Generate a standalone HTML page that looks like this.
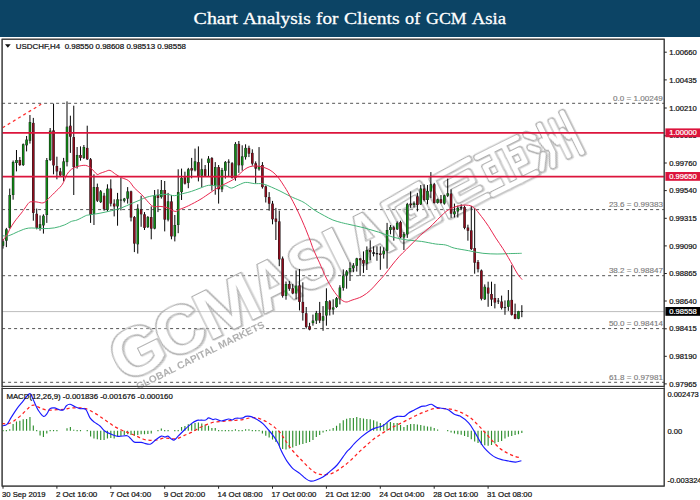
<!DOCTYPE html><html><head><meta charset="utf-8"><title>Chart Analysis for Clients of GCM Asia</title>
<style>html,body{margin:0;padding:0;background:#fff}body{width:700px;height:500px;overflow:hidden;position:relative;font-family:"Liberation Sans",sans-serif}#hdr{position:absolute;left:0;top:0;width:700px;height:36.7px;background:#0c4465}#ttl{position:absolute;left:0;top:0;width:700px;text-align:center;color:#fff;font-family:"Liberation Serif",serif;font-size:18px;line-height:20px;white-space:nowrap}svg{position:absolute;left:0;top:0}text{font-family:"Liberation Sans",sans-serif}.t text{stroke:#111;stroke-width:0.22px}.t text.w{stroke:#fff}.t text.g{stroke:#7d7d7d;stroke-width:0.15px}</style></head><body>
<div id="hdr"></div>
<svg width="700" height="500" viewBox="0 0 700 500">
<g id="tspan" font-size="17.6" fill="#fff" style="font-family:'Liberation Serif',serif">
<text style="font-family:&quot;Liberation Serif&quot;,serif" stroke="#fff" stroke-width="0.3" x="193.6" y="24" textLength="44.3" lengthAdjust="spacingAndGlyphs">Chart</text>
<text style="font-family:&quot;Liberation Serif&quot;,serif" stroke="#fff" stroke-width="0.3" x="243.0" y="24" textLength="67.7" lengthAdjust="spacingAndGlyphs">Analysis</text>
<text style="font-family:&quot;Liberation Serif&quot;,serif" stroke="#fff" stroke-width="0.3" x="316.1" y="24" textLength="22.2" lengthAdjust="spacingAndGlyphs">for</text>
<text style="font-family:&quot;Liberation Serif&quot;,serif" stroke="#fff" stroke-width="0.3" x="344.0" y="24" textLength="55.6" lengthAdjust="spacingAndGlyphs">Clients</text>
<text style="font-family:&quot;Liberation Serif&quot;,serif" stroke="#fff" stroke-width="0.3" x="405.1" y="24" textLength="15.2" lengthAdjust="spacingAndGlyphs">of</text>
<text style="font-family:&quot;Liberation Serif&quot;,serif" stroke="#fff" stroke-width="0.3" x="426.1" y="24" textLength="40.6" lengthAdjust="spacingAndGlyphs">GCM</text>
<text style="font-family:&quot;Liberation Serif&quot;,serif" stroke="#fff" stroke-width="0.3" x="471.8" y="24" textLength="34.2" lengthAdjust="spacingAndGlyphs">Asia</text>
</g>
<defs><clipPath id="c1"><rect x="2.1" y="39.2" width="662.1" height="347.2"/></clipPath><clipPath id="c2"><rect x="2.1" y="388.5" width="662.1" height="97.60000000000002"/></clipPath></defs>
<g clip-path="url(#c1)">
<line x1="2.1" x2="664.2" y1="311.6" y2="311.6" stroke="#bdbdbd" stroke-width="1"/>
<line x1="2.1" x2="664.2" y1="103.3" y2="103.3" stroke="#555" stroke-width="1" stroke-dasharray="3,3"/>
<line x1="2.1" x2="664.2" y1="209.6" y2="209.6" stroke="#555" stroke-width="1" stroke-dasharray="3,3"/>
<line x1="2.1" x2="664.2" y1="275.7" y2="275.7" stroke="#555" stroke-width="1" stroke-dasharray="3,3"/>
<line x1="2.1" x2="664.2" y1="328.6" y2="328.6" stroke="#555" stroke-width="1" stroke-dasharray="3,3"/>
<line x1="2.1" x2="664.2" y1="382.3" y2="382.3" stroke="#555" stroke-width="1" stroke-dasharray="3,3"/>
</g>
<rect x="2.1" y="39.2" width="662.1" height="347.2" fill="none" stroke="#3a3a3a" stroke-width="1"/>
<rect x="2.1" y="388.5" width="662.1" height="97.60000000000002" fill="none" stroke="#3a3a3a" stroke-width="1"/>
<defs><filter id="ol" x="-5%" y="-5%" width="110%" height="110%" color-interpolation-filters="sRGB">
<feMorphology in="SourceAlpha" operator="dilate" radius="0.55" result="d"/>
<feComposite in="d" in2="SourceAlpha" operator="out" result="ring"/>
<feFlood flood-color="#a9a9a9" flood-opacity="0.95" result="fc"/><feComposite in="fc" in2="ring" operator="in" result="ringc"/>
<feFlood flood-color="#ffffff" flood-opacity="0.28" result="ff"/><feComposite in="ff" in2="SourceAlpha" operator="in" result="fillc"/>
<feOffset in="ring" dx="1.2" dy="1.4" result="sh"/><feFlood flood-color="#c4c4c4" flood-opacity="0.8" result="fs"/><feComposite in="fs" in2="sh" operator="in" result="shc0"/>
<feComposite in="shc0" in2="SourceAlpha" operator="out" result="shc"/>
<feMerge><feMergeNode in="shc"/><feMergeNode in="fillc"/><feMergeNode in="ringc"/></feMerge></filter></defs>
<g transform="translate(212.9,339.3) rotate(-26.4)">
<g filter="url(#ol)">
<text transform="translate(-97.0,0) scale(1.016,1) translate(-2.72,0)" x="0" y="0" font-size="68.0" font-weight="bold" fill="#000">G</text>
<text transform="translate(-47.5,0) scale(0.992,1) translate(-2.72,0)" x="0" y="0" font-size="68.0" font-weight="bold" fill="#000">C</text>
<text transform="translate(0.0,0) scale(1.137,1) translate(-4.08,0)" x="0" y="0" font-size="68.0" font-weight="bold" fill="#000">M</text>
<text transform="translate(57.5,0) scale(0.908,1) translate(-1.36,0)" x="0" y="0" font-size="68.0" font-weight="bold" fill="#000">A</text>
<text transform="translate(101.4,0) scale(0.916,1) translate(-1.36,0)" x="0" y="0" font-size="68.0" font-weight="bold" fill="#000">S</text>
<text transform="translate(145.2,0) scale(1.066,1) translate(-4.08,0)" x="0" y="0" font-size="68.0" font-weight="bold" fill="#000">I</text>
<text transform="translate(166.5,0) scale(0.811,1) translate(-1.36,0)" x="0" y="0" font-size="68.0" font-weight="bold" fill="#000">A</text>
<path d="M212.9,-44.8 L253.2,-47.6 L256.1,-7.2 L214.8,-4.4 L212.9,-44.8" fill="none" stroke="#000" stroke-width="5.2" stroke-linejoin="round" stroke-linecap="round"/><path d="M224.4,-34.5 L243.6,-36.3 L244.6,-17.5 L226.3,-15.7 L224.4,-34.5" fill="none" stroke="#000" stroke-width="5.2" stroke-linejoin="round" stroke-linecap="round"/><path d="M234.0,-26.0 L239.8,-26.0 L239.8,-21.3" fill="none" stroke="#000" stroke-width="5.2" stroke-linejoin="round" stroke-linecap="round"/>
<path d="M308.9,-47.6 L267.6,-45.7 L267.6,-5.3 L309.8,-6.3" fill="none" stroke="#000" stroke-width="5.2" stroke-linejoin="round" stroke-linecap="round"/><path d="M279.1,-35.4 L303.1,-36.3 L303.1,-26.0 L282.0,-25.1" fill="none" stroke="#000" stroke-width="5.2" stroke-linejoin="round" stroke-linecap="round"/><path d="M282.0,-25.1 L282.0,-15.7 L306.0,-16.6" fill="none" stroke="#000" stroke-width="5.2" stroke-linejoin="round" stroke-linecap="round"/>
<path d="M317.5,-45.7 L361.7,-45.7" fill="none" stroke="#000" stroke-width="5.2" stroke-linejoin="round" stroke-linecap="round"/><path d="M315.6,-5.3 L363.6,-5.3" fill="none" stroke="#000" stroke-width="5.2" stroke-linejoin="round" stroke-linecap="round"/><path d="M332.9,-45.7 L332.9,-5.3" fill="none" stroke="#000" stroke-width="5.2" stroke-linejoin="round" stroke-linecap="round"/><path d="M346.3,-45.7 L346.3,-5.3" fill="none" stroke="#000" stroke-width="5.2" stroke-linejoin="round" stroke-linecap="round"/><path d="M332.9,-33.5 L320.4,-33.5 L320.4,-20.4 L332.9,-20.4" fill="none" stroke="#000" stroke-width="5.2" stroke-linejoin="round" stroke-linecap="round"/><path d="M346.3,-33.5 L358.8,-33.5 L358.8,-20.4 L346.3,-20.4" fill="none" stroke="#000" stroke-width="5.2" stroke-linejoin="round" stroke-linecap="round"/>
<path d="M371.3,-43.9 L377.0,-38.2" fill="none" stroke="#000" stroke-width="5.2" stroke-linejoin="round" stroke-linecap="round"/><path d="M369.4,-30.7 L375.1,-25.1" fill="none" stroke="#000" stroke-width="5.2" stroke-linejoin="round" stroke-linecap="round"/><path d="M370.3,-6.3 L378.0,-18.5" fill="none" stroke="#000" stroke-width="5.2" stroke-linejoin="round" stroke-linecap="round"/><path d="M387.6,-46.7 L387.6,-16.6 L381.8,-4.4" fill="none" stroke="#000" stroke-width="5.2" stroke-linejoin="round" stroke-linecap="round"/><path d="M400.1,-44.8 L400.1,-6.3" fill="none" stroke="#000" stroke-width="5.2" stroke-linejoin="round" stroke-linecap="round"/><path d="M413.5,-47.6 L413.5,-3.4" fill="none" stroke="#000" stroke-width="5.2" stroke-linejoin="round" stroke-linecap="round"/><path d="M382.8,-31.6 L384.7,-23.2" fill="none" stroke="#000" stroke-width="5.2" stroke-linejoin="round" stroke-linecap="round"/><path d="M393.4,-31.6 L396.2,-23.2" fill="none" stroke="#000" stroke-width="5.2" stroke-linejoin="round" stroke-linecap="round"/><path d="M405.8,-31.6 L408.7,-23.2" fill="none" stroke="#000" stroke-width="5.2" stroke-linejoin="round" stroke-linecap="round"/>
</g>
<text x="-89.5" y="12.2" font-size="10" font-weight="bold" textLength="142" lengthAdjust="spacingAndGlyphs" fill="#a8a8a8" stroke="#fff" stroke-width="1.6" paint-order="stroke" opacity="0.9">GLOBAL CAPITAL MARKETS</text>
</g>
<g clip-path="url(#c1)">
<line x1="3.00" x2="3.00" y1="239.3" y2="248.6" stroke="#050505" stroke-width="1"/>
<rect x="1.75" y="241.4" width="2.5" height="4.3" fill="#161616"/>
<rect x="2.20" y="241.7" width="1.6" height="3.7" fill="#0f8a14"/>
<line x1="6.37" x2="6.37" y1="227.9" y2="247.1" stroke="#050505" stroke-width="1"/>
<rect x="5.12" y="229.3" width="2.5" height="11.4" fill="#161616"/>
<rect x="5.57" y="229.6" width="1.6" height="10.8" fill="#0f8a14"/>
<line x1="9.74" x2="9.74" y1="188.6" y2="228.6" stroke="#050505" stroke-width="1"/>
<rect x="8.49" y="195" width="2.5" height="32.9" fill="#161616"/>
<rect x="8.94" y="195.3" width="1.6" height="32.3" fill="#0f8a14"/>
<line x1="13.11" x2="13.11" y1="160.5" y2="199.7" stroke="#050505" stroke-width="1"/>
<rect x="11.86" y="162" width="2.5" height="33.0" fill="#161616"/>
<rect x="12.31" y="162.3" width="1.6" height="32.4" fill="#0f8a14"/>
<line x1="16.48" x2="16.48" y1="150" y2="171.4" stroke="#050505" stroke-width="1"/>
<rect x="15.23" y="160" width="2.5" height="3.0" fill="#161616"/>
<rect x="15.68" y="160.3" width="1.6" height="2.4" fill="#0f8a14"/>
<line x1="19.85" x2="19.85" y1="157" y2="166" stroke="#050505" stroke-width="1"/>
<rect x="18.60" y="160" width="2.5" height="5.0" fill="#161616"/>
<rect x="19.05" y="160.3" width="1.6" height="4.4" fill="#8e0b1c"/>
<line x1="23.21" x2="23.21" y1="143.5" y2="166" stroke="#050505" stroke-width="1"/>
<rect x="21.96" y="144.3" width="2.5" height="20.7" fill="#161616"/>
<rect x="22.41" y="144.6" width="1.6" height="20.1" fill="#0f8a14"/>
<line x1="26.58" x2="26.58" y1="136" y2="151.4" stroke="#050505" stroke-width="1"/>
<rect x="25.33" y="139.6" width="2.5" height="5.7" fill="#161616"/>
<rect x="25.78" y="139.9" width="1.6" height="5.1" fill="#0f8a14"/>
<line x1="29.95" x2="29.95" y1="115" y2="143.6" stroke="#050505" stroke-width="1"/>
<rect x="28.70" y="122.1" width="2.5" height="18.6" fill="#161616"/>
<rect x="29.15" y="122.4" width="1.6" height="18.0" fill="#0f8a14"/>
<line x1="33.32" x2="33.32" y1="117.9" y2="220.7" stroke="#050505" stroke-width="1"/>
<rect x="32.07" y="122.9" width="2.5" height="90.0" fill="#161616"/>
<rect x="32.52" y="123.2" width="1.6" height="89.4" fill="#8e0b1c"/>
<line x1="36.69" x2="36.69" y1="208.6" y2="229.3" stroke="#050505" stroke-width="1"/>
<rect x="35.44" y="213.8" width="2.5" height="14.1" fill="#161616"/>
<rect x="35.89" y="214.1" width="1.6" height="13.5" fill="#8e0b1c"/>
<line x1="40.06" x2="40.06" y1="215.4" y2="230.7" stroke="#050505" stroke-width="1"/>
<rect x="38.81" y="224.3" width="2.5" height="3.6" fill="#161616"/>
<rect x="39.26" y="224.6" width="1.6" height="3.0" fill="#0f8a14"/>
<line x1="43.43" x2="43.43" y1="214.3" y2="233.6" stroke="#050505" stroke-width="1"/>
<rect x="42.18" y="215.7" width="2.5" height="9.7" fill="#161616"/>
<rect x="42.63" y="216.0" width="1.6" height="9.1" fill="#0f8a14"/>
<line x1="46.80" x2="46.80" y1="158" y2="222.9" stroke="#050505" stroke-width="1"/>
<rect x="45.55" y="160" width="2.5" height="55.0" fill="#161616"/>
<rect x="46.00" y="160.3" width="1.6" height="54.4" fill="#0f8a14"/>
<line x1="50.17" x2="50.17" y1="128" y2="161" stroke="#050505" stroke-width="1"/>
<rect x="48.92" y="130.7" width="2.5" height="29.3" fill="#161616"/>
<rect x="49.37" y="131.0" width="1.6" height="28.7" fill="#0f8a14"/>
<line x1="53.54" x2="53.54" y1="103.6" y2="174.3" stroke="#050505" stroke-width="1"/>
<rect x="52.29" y="130.4" width="2.5" height="35.0" fill="#161616"/>
<rect x="52.74" y="130.7" width="1.6" height="34.4" fill="#8e0b1c"/>
<line x1="56.90" x2="56.90" y1="156.7" y2="179.3" stroke="#050505" stroke-width="1"/>
<rect x="55.65" y="166" width="2.5" height="5.4" fill="#161616"/>
<rect x="56.10" y="166.3" width="1.6" height="4.8" fill="#8e0b1c"/>
<line x1="60.27" x2="60.27" y1="167.9" y2="176" stroke="#050505" stroke-width="1"/>
<rect x="59.02" y="171.4" width="2.5" height="4.0" fill="#161616"/>
<rect x="59.47" y="171.7" width="1.6" height="3.4" fill="#8e0b1c"/>
<line x1="63.64" x2="63.64" y1="157.9" y2="181.4" stroke="#050505" stroke-width="1"/>
<rect x="62.39" y="161.4" width="2.5" height="14.3" fill="#161616"/>
<rect x="62.84" y="161.7" width="1.6" height="13.7" fill="#0f8a14"/>
<line x1="67.01" x2="67.01" y1="101.4" y2="166.4" stroke="#050505" stroke-width="1"/>
<rect x="65.76" y="126.7" width="2.5" height="35.4" fill="#161616"/>
<rect x="66.21" y="127.0" width="1.6" height="34.8" fill="#0f8a14"/>
<line x1="70.38" x2="70.38" y1="115.7" y2="152.9" stroke="#050505" stroke-width="1"/>
<rect x="69.13" y="125.7" width="2.5" height="11.0" fill="#161616"/>
<rect x="69.58" y="126.0" width="1.6" height="10.4" fill="#8e0b1c"/>
<line x1="73.75" x2="73.75" y1="105.7" y2="195" stroke="#050505" stroke-width="1"/>
<rect x="72.50" y="137.1" width="2.5" height="30.0" fill="#161616"/>
<rect x="72.95" y="137.4" width="1.6" height="29.4" fill="#8e0b1c"/>
<line x1="77.12" x2="77.12" y1="147" y2="168.6" stroke="#050505" stroke-width="1"/>
<rect x="75.87" y="155" width="2.5" height="11.4" fill="#161616"/>
<rect x="76.32" y="155.3" width="1.6" height="10.8" fill="#0f8a14"/>
<line x1="80.49" x2="80.49" y1="146.4" y2="160.7" stroke="#050505" stroke-width="1"/>
<rect x="79.24" y="155" width="2.5" height="2.9" fill="#161616"/>
<rect x="79.69" y="155.3" width="1.6" height="2.3" fill="#8e0b1c"/>
<line x1="83.86" x2="83.86" y1="145" y2="159" stroke="#050505" stroke-width="1"/>
<rect x="82.61" y="147" width="2.5" height="10.9" fill="#161616"/>
<rect x="83.06" y="147.3" width="1.6" height="10.3" fill="#0f8a14"/>
<line x1="87.23" x2="87.23" y1="125.7" y2="160" stroke="#050505" stroke-width="1"/>
<rect x="85.98" y="147.9" width="2.5" height="11.4" fill="#161616"/>
<rect x="86.43" y="148.2" width="1.6" height="10.8" fill="#8e0b1c"/>
<line x1="90.59" x2="90.59" y1="158" y2="222.9" stroke="#050505" stroke-width="1"/>
<rect x="89.34" y="159.3" width="2.5" height="55.7" fill="#161616"/>
<rect x="89.79" y="159.6" width="1.6" height="55.1" fill="#8e0b1c"/>
<line x1="93.96" x2="93.96" y1="174.3" y2="225" stroke="#050505" stroke-width="1"/>
<rect x="92.71" y="187.1" width="2.5" height="26.8" fill="#161616"/>
<rect x="93.16" y="187.4" width="1.6" height="26.2" fill="#0f8a14"/>
<line x1="97.33" x2="97.33" y1="183.6" y2="202" stroke="#050505" stroke-width="1"/>
<rect x="96.08" y="187.1" width="2.5" height="13.6" fill="#161616"/>
<rect x="96.53" y="187.4" width="1.6" height="13.0" fill="#8e0b1c"/>
<line x1="100.70" x2="100.70" y1="190" y2="203" stroke="#050505" stroke-width="1"/>
<rect x="99.45" y="191.4" width="2.5" height="10.7" fill="#161616"/>
<rect x="99.90" y="191.7" width="1.6" height="10.1" fill="#0f8a14"/>
<line x1="104.07" x2="104.07" y1="192.9" y2="210.7" stroke="#050505" stroke-width="1"/>
<rect x="102.82" y="195.7" width="2.5" height="13.6" fill="#161616"/>
<rect x="103.27" y="196.0" width="1.6" height="13.0" fill="#8e0b1c"/>
<line x1="107.44" x2="107.44" y1="184.3" y2="211.4" stroke="#050505" stroke-width="1"/>
<rect x="106.19" y="188.6" width="2.5" height="21.4" fill="#161616"/>
<rect x="106.64" y="188.9" width="1.6" height="20.8" fill="#0f8a14"/>
<line x1="110.81" x2="110.81" y1="179.3" y2="206.4" stroke="#050505" stroke-width="1"/>
<rect x="109.56" y="188.6" width="2.5" height="15.0" fill="#161616"/>
<rect x="110.01" y="188.9" width="1.6" height="14.4" fill="#8e0b1c"/>
<line x1="114.18" x2="114.18" y1="199.3" y2="216.4" stroke="#050505" stroke-width="1"/>
<rect x="112.93" y="203.6" width="2.5" height="2.8" fill="#161616"/>
<rect x="113.38" y="203.9" width="1.6" height="2.2" fill="#8e0b1c"/>
<line x1="117.55" x2="117.55" y1="192.9" y2="225.7" stroke="#050505" stroke-width="1"/>
<rect x="116.30" y="199.3" width="2.5" height="7.1" fill="#161616"/>
<rect x="116.75" y="199.6" width="1.6" height="6.5" fill="#0f8a14"/>
<line x1="120.92" x2="120.92" y1="177.9" y2="210.4" stroke="#050505" stroke-width="1"/>
<rect x="119.72" y="199.6" width="2.4" height="0.9" fill="#111"/>
<line x1="124.28" x2="124.28" y1="197.9" y2="202.4" stroke="#050505" stroke-width="1"/>
<rect x="123.03" y="198.6" width="2.5" height="2.1" fill="#161616"/>
<rect x="123.48" y="198.9" width="1.6" height="1.5" fill="#0f8a14"/>
<line x1="127.65" x2="127.65" y1="187.1" y2="203.6" stroke="#050505" stroke-width="1"/>
<rect x="126.40" y="191.4" width="2.5" height="7.2" fill="#161616"/>
<rect x="126.85" y="191.7" width="1.6" height="6.6" fill="#0f8a14"/>
<line x1="131.02" x2="131.02" y1="190.7" y2="221.4" stroke="#050505" stroke-width="1"/>
<rect x="129.77" y="191.4" width="2.5" height="26.1" fill="#161616"/>
<rect x="130.22" y="191.7" width="1.6" height="25.5" fill="#8e0b1c"/>
<line x1="134.39" x2="134.39" y1="216" y2="252.1" stroke="#050505" stroke-width="1"/>
<rect x="133.14" y="217.1" width="2.5" height="26.5" fill="#161616"/>
<rect x="133.59" y="217.4" width="1.6" height="25.9" fill="#8e0b1c"/>
<line x1="137.76" x2="137.76" y1="204.3" y2="253.6" stroke="#050505" stroke-width="1"/>
<rect x="136.51" y="208.6" width="2.5" height="35.7" fill="#161616"/>
<rect x="136.96" y="208.9" width="1.6" height="35.1" fill="#0f8a14"/>
<line x1="141.13" x2="141.13" y1="195.7" y2="226.8" stroke="#050505" stroke-width="1"/>
<rect x="139.88" y="209.3" width="2.5" height="5.0" fill="#161616"/>
<rect x="140.33" y="209.6" width="1.6" height="4.4" fill="#8e0b1c"/>
<line x1="144.50" x2="144.50" y1="212.1" y2="230" stroke="#050505" stroke-width="1"/>
<rect x="143.25" y="214.3" width="2.5" height="13.6" fill="#161616"/>
<rect x="143.70" y="214.6" width="1.6" height="13.0" fill="#8e0b1c"/>
<line x1="147.87" x2="147.87" y1="216" y2="228" stroke="#050505" stroke-width="1"/>
<rect x="146.62" y="217.1" width="2.5" height="10.0" fill="#161616"/>
<rect x="147.07" y="217.4" width="1.6" height="9.4" fill="#0f8a14"/>
<line x1="151.24" x2="151.24" y1="206.4" y2="239.3" stroke="#050505" stroke-width="1"/>
<rect x="149.99" y="217.1" width="2.5" height="11.5" fill="#161616"/>
<rect x="150.44" y="217.4" width="1.6" height="10.9" fill="#8e0b1c"/>
<line x1="154.61" x2="154.61" y1="190" y2="229.3" stroke="#050505" stroke-width="1"/>
<rect x="153.36" y="195.7" width="2.5" height="32.9" fill="#161616"/>
<rect x="153.81" y="196.0" width="1.6" height="32.3" fill="#0f8a14"/>
<line x1="157.97" x2="157.97" y1="189.3" y2="212.1" stroke="#050505" stroke-width="1"/>
<rect x="156.72" y="195" width="2.5" height="2.9" fill="#161616"/>
<rect x="157.17" y="195.3" width="1.6" height="2.3" fill="#8e0b1c"/>
<line x1="161.34" x2="161.34" y1="180" y2="198.6" stroke="#050505" stroke-width="1"/>
<rect x="160.09" y="190" width="2.5" height="7.1" fill="#161616"/>
<rect x="160.54" y="190.3" width="1.6" height="6.5" fill="#0f8a14"/>
<line x1="164.71" x2="164.71" y1="181" y2="231.4" stroke="#050505" stroke-width="1"/>
<rect x="163.46" y="190" width="2.5" height="29.6" fill="#161616"/>
<rect x="163.91" y="190.3" width="1.6" height="29.0" fill="#8e0b1c"/>
<line x1="168.08" x2="168.08" y1="192.9" y2="221.4" stroke="#050505" stroke-width="1"/>
<rect x="166.83" y="201.4" width="2.5" height="18.2" fill="#161616"/>
<rect x="167.28" y="201.7" width="1.6" height="17.6" fill="#0f8a14"/>
<line x1="171.45" x2="171.45" y1="195" y2="239.3" stroke="#050505" stroke-width="1"/>
<rect x="170.20" y="201.4" width="2.5" height="35.0" fill="#161616"/>
<rect x="170.65" y="201.7" width="1.6" height="34.4" fill="#8e0b1c"/>
<line x1="174.82" x2="174.82" y1="215" y2="241.4" stroke="#050505" stroke-width="1"/>
<rect x="173.57" y="225" width="2.5" height="11.4" fill="#161616"/>
<rect x="174.02" y="225.3" width="1.6" height="10.8" fill="#0f8a14"/>
<line x1="178.19" x2="178.19" y1="169.3" y2="233.2" stroke="#050505" stroke-width="1"/>
<rect x="176.94" y="192.1" width="2.5" height="32.9" fill="#161616"/>
<rect x="177.39" y="192.4" width="1.6" height="32.3" fill="#0f8a14"/>
<line x1="181.56" x2="181.56" y1="168.6" y2="200" stroke="#050505" stroke-width="1"/>
<rect x="180.31" y="177.9" width="2.5" height="14.2" fill="#161616"/>
<rect x="180.76" y="178.2" width="1.6" height="13.6" fill="#0f8a14"/>
<line x1="184.93" x2="184.93" y1="171.7" y2="184.5" stroke="#050505" stroke-width="1"/>
<rect x="183.68" y="177.4" width="2.5" height="6.2" fill="#161616"/>
<rect x="184.13" y="177.7" width="1.6" height="5.6" fill="#8e0b1c"/>
<line x1="188.30" x2="188.30" y1="167.9" y2="188.2" stroke="#050505" stroke-width="1"/>
<rect x="187.05" y="169.3" width="2.5" height="13.6" fill="#161616"/>
<rect x="187.50" y="169.6" width="1.6" height="13.0" fill="#0f8a14"/>
<line x1="191.66" x2="191.66" y1="157.9" y2="178.3" stroke="#050505" stroke-width="1"/>
<rect x="190.41" y="168.2" width="2.5" height="2.3" fill="#161616"/>
<rect x="190.86" y="168.5" width="1.6" height="1.7" fill="#8e0b1c"/>
<line x1="195.03" x2="195.03" y1="148.6" y2="171.4" stroke="#050505" stroke-width="1"/>
<rect x="193.78" y="161.4" width="2.5" height="8.9" fill="#161616"/>
<rect x="194.23" y="161.7" width="1.6" height="8.3" fill="#0f8a14"/>
<line x1="198.40" x2="198.40" y1="146.4" y2="181.4" stroke="#050505" stroke-width="1"/>
<rect x="197.15" y="162.1" width="2.5" height="14.7" fill="#161616"/>
<rect x="197.60" y="162.4" width="1.6" height="14.1" fill="#8e0b1c"/>
<line x1="201.77" x2="201.77" y1="158.6" y2="187.1" stroke="#050505" stroke-width="1"/>
<rect x="200.52" y="169.3" width="2.5" height="6.4" fill="#161616"/>
<rect x="200.97" y="169.6" width="1.6" height="5.8" fill="#0f8a14"/>
<line x1="205.14" x2="205.14" y1="165" y2="177" stroke="#050505" stroke-width="1"/>
<rect x="203.89" y="169.3" width="2.5" height="6.4" fill="#161616"/>
<rect x="204.34" y="169.6" width="1.6" height="5.8" fill="#8e0b1c"/>
<line x1="208.51" x2="208.51" y1="156.1" y2="176.4" stroke="#050505" stroke-width="1"/>
<rect x="207.26" y="158.6" width="2.5" height="4.3" fill="#161616"/>
<rect x="207.71" y="158.9" width="1.6" height="3.7" fill="#0f8a14"/>
<line x1="211.88" x2="211.88" y1="157.1" y2="190.7" stroke="#050505" stroke-width="1"/>
<rect x="210.63" y="158.1" width="2.5" height="27.6" fill="#161616"/>
<rect x="211.08" y="158.4" width="1.6" height="27.0" fill="#8e0b1c"/>
<line x1="215.25" x2="215.25" y1="162.1" y2="194.7" stroke="#050505" stroke-width="1"/>
<rect x="214.00" y="167.1" width="2.5" height="18.6" fill="#161616"/>
<rect x="214.45" y="167.4" width="1.6" height="18.0" fill="#0f8a14"/>
<line x1="218.62" x2="218.62" y1="165" y2="203.6" stroke="#050505" stroke-width="1"/>
<rect x="217.37" y="167.1" width="2.5" height="22.2" fill="#161616"/>
<rect x="217.82" y="167.4" width="1.6" height="21.6" fill="#8e0b1c"/>
<line x1="221.99" x2="221.99" y1="167.9" y2="192.1" stroke="#050505" stroke-width="1"/>
<rect x="220.74" y="170" width="2.5" height="19.3" fill="#161616"/>
<rect x="221.19" y="170.3" width="1.6" height="18.7" fill="#0f8a14"/>
<line x1="225.35" x2="225.35" y1="161" y2="178.6" stroke="#050505" stroke-width="1"/>
<rect x="224.10" y="162.1" width="2.5" height="8.6" fill="#161616"/>
<rect x="224.55" y="162.4" width="1.6" height="8.0" fill="#0f8a14"/>
<line x1="228.72" x2="228.72" y1="159.3" y2="176.4" stroke="#050505" stroke-width="1"/>
<rect x="227.52" y="161.6" width="2.4" height="1.0" fill="#111"/>
<line x1="232.09" x2="232.09" y1="162.1" y2="178.6" stroke="#050505" stroke-width="1"/>
<rect x="230.84" y="163.3" width="2.5" height="14.6" fill="#161616"/>
<rect x="231.29" y="163.6" width="1.6" height="14.0" fill="#8e0b1c"/>
<line x1="235.46" x2="235.46" y1="142.1" y2="180.7" stroke="#050505" stroke-width="1"/>
<rect x="234.21" y="143.9" width="2.5" height="34.0" fill="#161616"/>
<rect x="234.66" y="144.2" width="1.6" height="33.4" fill="#0f8a14"/>
<line x1="238.83" x2="238.83" y1="141" y2="172.9" stroke="#050505" stroke-width="1"/>
<rect x="237.58" y="143.9" width="2.5" height="21.4" fill="#161616"/>
<rect x="238.03" y="144.2" width="1.6" height="20.8" fill="#8e0b1c"/>
<line x1="242.20" x2="242.20" y1="145.3" y2="170.7" stroke="#050505" stroke-width="1"/>
<rect x="240.95" y="156.4" width="2.5" height="8.9" fill="#161616"/>
<rect x="241.40" y="156.7" width="1.6" height="8.3" fill="#0f8a14"/>
<line x1="245.57" x2="245.57" y1="144.3" y2="159.6" stroke="#050505" stroke-width="1"/>
<rect x="244.32" y="147.9" width="2.5" height="9.2" fill="#161616"/>
<rect x="244.77" y="148.2" width="1.6" height="8.6" fill="#0f8a14"/>
<line x1="248.94" x2="248.94" y1="145.7" y2="157.1" stroke="#050505" stroke-width="1"/>
<rect x="247.69" y="147.9" width="2.5" height="5.7" fill="#161616"/>
<rect x="248.14" y="148.2" width="1.6" height="5.1" fill="#8e0b1c"/>
<line x1="252.31" x2="252.31" y1="149.3" y2="165.7" stroke="#050505" stroke-width="1"/>
<rect x="251.06" y="152.9" width="2.5" height="10.7" fill="#161616"/>
<rect x="251.51" y="153.2" width="1.6" height="10.1" fill="#8e0b1c"/>
<line x1="255.68" x2="255.68" y1="161.4" y2="183.6" stroke="#050505" stroke-width="1"/>
<rect x="254.43" y="163.3" width="2.5" height="5.3" fill="#161616"/>
<rect x="254.88" y="163.6" width="1.6" height="4.7" fill="#8e0b1c"/>
<line x1="259.04" x2="259.04" y1="147.1" y2="170.7" stroke="#050505" stroke-width="1"/>
<rect x="257.79" y="166.4" width="2.5" height="2.9" fill="#161616"/>
<rect x="258.24" y="166.7" width="1.6" height="2.3" fill="#0f8a14"/>
<line x1="262.41" x2="262.41" y1="162.1" y2="188.6" stroke="#050505" stroke-width="1"/>
<rect x="261.16" y="165" width="2.5" height="22.1" fill="#161616"/>
<rect x="261.61" y="165.3" width="1.6" height="21.5" fill="#8e0b1c"/>
<line x1="265.78" x2="265.78" y1="185.5" y2="202.5" stroke="#050505" stroke-width="1"/>
<rect x="264.53" y="186.4" width="2.5" height="10.7" fill="#161616"/>
<rect x="264.98" y="186.7" width="1.6" height="10.1" fill="#8e0b1c"/>
<line x1="269.15" x2="269.15" y1="192.1" y2="210.7" stroke="#050505" stroke-width="1"/>
<rect x="267.90" y="197.1" width="2.5" height="6.5" fill="#161616"/>
<rect x="268.35" y="197.4" width="1.6" height="5.9" fill="#8e0b1c"/>
<line x1="272.52" x2="272.52" y1="200.9" y2="224.3" stroke="#050505" stroke-width="1"/>
<rect x="271.27" y="203.6" width="2.5" height="15.7" fill="#161616"/>
<rect x="271.72" y="203.9" width="1.6" height="15.1" fill="#8e0b1c"/>
<line x1="275.89" x2="275.89" y1="207.9" y2="240" stroke="#050505" stroke-width="1"/>
<rect x="274.64" y="218.6" width="2.5" height="3.1" fill="#161616"/>
<rect x="275.09" y="218.9" width="1.6" height="2.5" fill="#8e0b1c"/>
<line x1="279.26" x2="279.26" y1="210.7" y2="266.2" stroke="#050505" stroke-width="1"/>
<rect x="278.01" y="221.4" width="2.5" height="38.0" fill="#161616"/>
<rect x="278.46" y="221.7" width="1.6" height="37.4" fill="#8e0b1c"/>
<line x1="282.63" x2="282.63" y1="256.5" y2="297.6" stroke="#050505" stroke-width="1"/>
<rect x="281.38" y="258.5" width="2.5" height="37.4" fill="#161616"/>
<rect x="281.83" y="258.8" width="1.6" height="36.8" fill="#8e0b1c"/>
<line x1="286.00" x2="286.00" y1="281.5" y2="299.7" stroke="#050505" stroke-width="1"/>
<rect x="284.75" y="284" width="2.5" height="11.9" fill="#161616"/>
<rect x="285.20" y="284.3" width="1.6" height="11.3" fill="#0f8a14"/>
<line x1="289.37" x2="289.37" y1="281.1" y2="290.8" stroke="#050505" stroke-width="1"/>
<rect x="288.12" y="284" width="2.5" height="4.8" fill="#161616"/>
<rect x="288.56" y="284.3" width="1.6" height="4.2" fill="#8e0b1c"/>
<line x1="292.73" x2="292.73" y1="284" y2="294.2" stroke="#050505" stroke-width="1"/>
<rect x="291.48" y="288.3" width="2.5" height="5.1" fill="#161616"/>
<rect x="291.93" y="288.6" width="1.6" height="4.5" fill="#8e0b1c"/>
<line x1="296.10" x2="296.10" y1="270.4" y2="299.3" stroke="#050505" stroke-width="1"/>
<rect x="294.85" y="285.7" width="2.5" height="7.7" fill="#161616"/>
<rect x="295.30" y="286.0" width="1.6" height="7.1" fill="#0f8a14"/>
<line x1="299.47" x2="299.47" y1="269" y2="310.4" stroke="#050505" stroke-width="1"/>
<rect x="298.22" y="285.4" width="2.5" height="16.5" fill="#161616"/>
<rect x="298.67" y="285.7" width="1.6" height="15.9" fill="#8e0b1c"/>
<line x1="302.84" x2="302.84" y1="282.3" y2="320.6" stroke="#050505" stroke-width="1"/>
<rect x="301.59" y="301.9" width="2.5" height="11.0" fill="#161616"/>
<rect x="302.04" y="302.2" width="1.6" height="10.4" fill="#8e0b1c"/>
<line x1="306.21" x2="306.21" y1="307" y2="328.6" stroke="#050505" stroke-width="1"/>
<rect x="304.96" y="313.3" width="2.5" height="13.6" fill="#161616"/>
<rect x="305.41" y="313.6" width="1.6" height="13.0" fill="#8e0b1c"/>
<line x1="309.58" x2="309.58" y1="322.8" y2="330.3" stroke="#050505" stroke-width="1"/>
<rect x="308.33" y="326.2" width="2.5" height="3.4" fill="#161616"/>
<rect x="308.78" y="326.5" width="1.6" height="2.8" fill="#8e0b1c"/>
<line x1="312.95" x2="312.95" y1="314.6" y2="325.7" stroke="#050505" stroke-width="1"/>
<rect x="311.70" y="320.6" width="2.5" height="2.5" fill="#161616"/>
<rect x="312.15" y="320.9" width="1.6" height="1.9" fill="#0f8a14"/>
<line x1="316.32" x2="316.32" y1="310.9" y2="324" stroke="#050505" stroke-width="1"/>
<rect x="315.07" y="312.9" width="2.5" height="7.7" fill="#161616"/>
<rect x="315.52" y="313.2" width="1.6" height="7.1" fill="#0f8a14"/>
<line x1="319.69" x2="319.69" y1="301.9" y2="323.1" stroke="#050505" stroke-width="1"/>
<rect x="318.44" y="312.9" width="2.5" height="7.7" fill="#161616"/>
<rect x="318.89" y="313.2" width="1.6" height="7.1" fill="#8e0b1c"/>
<line x1="323.06" x2="323.06" y1="306.1" y2="330.8" stroke="#050505" stroke-width="1"/>
<rect x="321.81" y="316.3" width="2.5" height="4.3" fill="#161616"/>
<rect x="322.25" y="316.6" width="1.6" height="3.7" fill="#0f8a14"/>
<line x1="326.42" x2="326.42" y1="288.3" y2="325.7" stroke="#050505" stroke-width="1"/>
<rect x="325.17" y="301" width="2.5" height="14.5" fill="#161616"/>
<rect x="325.62" y="301.3" width="1.6" height="13.9" fill="#0f8a14"/>
<line x1="329.79" x2="329.79" y1="300" y2="315.5" stroke="#050505" stroke-width="1"/>
<rect x="328.54" y="301.4" width="2.5" height="8.1" fill="#161616"/>
<rect x="328.99" y="301.7" width="1.6" height="7.5" fill="#8e0b1c"/>
<line x1="333.16" x2="333.16" y1="299.3" y2="314.6" stroke="#050505" stroke-width="1"/>
<rect x="331.91" y="307.5" width="2.5" height="2.0" fill="#161616"/>
<rect x="332.36" y="307.8" width="1.6" height="1.4" fill="#0f8a14"/>
<line x1="336.53" x2="336.53" y1="297" y2="307.8" stroke="#050505" stroke-width="1"/>
<rect x="335.28" y="298.2" width="2.5" height="8.8" fill="#161616"/>
<rect x="335.73" y="298.5" width="1.6" height="8.2" fill="#0f8a14"/>
<line x1="339.90" x2="339.90" y1="285.2" y2="304.4" stroke="#050505" stroke-width="1"/>
<rect x="338.65" y="287.6" width="2.5" height="11.7" fill="#161616"/>
<rect x="339.10" y="287.9" width="1.6" height="11.1" fill="#0f8a14"/>
<line x1="343.27" x2="343.27" y1="269.4" y2="290.7" stroke="#050505" stroke-width="1"/>
<rect x="342.02" y="275.6" width="2.5" height="12.2" fill="#161616"/>
<rect x="342.47" y="275.9" width="1.6" height="11.6" fill="#0f8a14"/>
<line x1="346.64" x2="346.64" y1="270" y2="288.7" stroke="#050505" stroke-width="1"/>
<rect x="345.39" y="271.4" width="2.5" height="4.2" fill="#161616"/>
<rect x="345.84" y="271.7" width="1.6" height="3.6" fill="#0f8a14"/>
<line x1="350.01" x2="350.01" y1="262.4" y2="281" stroke="#050505" stroke-width="1"/>
<rect x="348.76" y="268" width="2.5" height="3.6" fill="#161616"/>
<rect x="349.21" y="268.3" width="1.6" height="3.0" fill="#0f8a14"/>
<line x1="353.38" x2="353.38" y1="263.1" y2="272.2" stroke="#050505" stroke-width="1"/>
<rect x="352.13" y="265.4" width="2.5" height="2.8" fill="#161616"/>
<rect x="352.58" y="265.7" width="1.6" height="2.2" fill="#0f8a14"/>
<line x1="356.75" x2="356.75" y1="257.8" y2="271.6" stroke="#050505" stroke-width="1"/>
<rect x="355.50" y="258.4" width="2.5" height="7.3" fill="#161616"/>
<rect x="355.94" y="258.7" width="1.6" height="6.7" fill="#0f8a14"/>
<line x1="360.11" x2="360.11" y1="258.2" y2="276" stroke="#050505" stroke-width="1"/>
<rect x="358.86" y="258.5" width="2.5" height="1.7" fill="#161616"/>
<rect x="359.31" y="258.8" width="1.6" height="1.1" fill="#8e0b1c"/>
<line x1="363.48" x2="363.48" y1="251.4" y2="272.9" stroke="#050505" stroke-width="1"/>
<rect x="362.23" y="260" width="2.5" height="3.6" fill="#161616"/>
<rect x="362.68" y="260.3" width="1.6" height="3.0" fill="#8e0b1c"/>
<line x1="366.85" x2="366.85" y1="246.4" y2="270" stroke="#050505" stroke-width="1"/>
<rect x="365.60" y="250" width="2.5" height="13.6" fill="#161616"/>
<rect x="366.05" y="250.3" width="1.6" height="13.0" fill="#0f8a14"/>
<line x1="370.22" x2="370.22" y1="240.3" y2="260.2" stroke="#050505" stroke-width="1"/>
<rect x="368.97" y="250" width="2.5" height="2.2" fill="#161616"/>
<rect x="369.42" y="250.3" width="1.6" height="1.6" fill="#8e0b1c"/>
<line x1="373.59" x2="373.59" y1="246.4" y2="256.4" stroke="#050505" stroke-width="1"/>
<rect x="372.39" y="252.1" width="2.4" height="1.9" fill="#111"/>
<line x1="376.96" x2="376.96" y1="246.4" y2="260.8" stroke="#050505" stroke-width="1"/>
<rect x="375.76" y="253" width="2.4" height="1.3" fill="#111"/>
<line x1="380.33" x2="380.33" y1="246.4" y2="269.8" stroke="#050505" stroke-width="1"/>
<rect x="379.08" y="253.4" width="2.5" height="1.6" fill="#161616"/>
<rect x="379.53" y="253.7" width="1.6" height="1.0" fill="#8e0b1c"/>
<line x1="383.70" x2="383.70" y1="247.3" y2="258.6" stroke="#050505" stroke-width="1"/>
<rect x="382.45" y="250.7" width="2.5" height="3.6" fill="#161616"/>
<rect x="382.90" y="251.0" width="1.6" height="3.0" fill="#0f8a14"/>
<line x1="387.07" x2="387.07" y1="222.9" y2="268.6" stroke="#050505" stroke-width="1"/>
<rect x="385.82" y="230" width="2.5" height="20.7" fill="#161616"/>
<rect x="386.27" y="230.3" width="1.6" height="20.1" fill="#0f8a14"/>
<line x1="390.44" x2="390.44" y1="225" y2="234.3" stroke="#050505" stroke-width="1"/>
<rect x="389.19" y="227.1" width="2.5" height="2.9" fill="#161616"/>
<rect x="389.63" y="227.4" width="1.6" height="2.3" fill="#0f8a14"/>
<line x1="393.80" x2="393.80" y1="225.7" y2="240.7" stroke="#050505" stroke-width="1"/>
<rect x="392.55" y="227.4" width="2.5" height="2.3" fill="#161616"/>
<rect x="393.00" y="227.7" width="1.6" height="1.7" fill="#8e0b1c"/>
<line x1="397.17" x2="397.17" y1="221.4" y2="230" stroke="#050505" stroke-width="1"/>
<rect x="395.92" y="222.9" width="2.5" height="6.4" fill="#161616"/>
<rect x="396.37" y="223.2" width="1.6" height="5.8" fill="#0f8a14"/>
<line x1="400.54" x2="400.54" y1="220.7" y2="238.3" stroke="#050505" stroke-width="1"/>
<rect x="399.29" y="222.1" width="2.5" height="15.3" fill="#161616"/>
<rect x="399.74" y="222.4" width="1.6" height="14.7" fill="#8e0b1c"/>
<line x1="403.91" x2="403.91" y1="232.1" y2="250" stroke="#050505" stroke-width="1"/>
<rect x="402.66" y="234" width="2.5" height="3.4" fill="#161616"/>
<rect x="403.11" y="234.3" width="1.6" height="2.8" fill="#0f8a14"/>
<line x1="407.28" x2="407.28" y1="202.9" y2="237.9" stroke="#050505" stroke-width="1"/>
<rect x="406.03" y="204.2" width="2.5" height="30.1" fill="#161616"/>
<rect x="406.48" y="204.5" width="1.6" height="29.5" fill="#0f8a14"/>
<line x1="410.65" x2="410.65" y1="191.4" y2="207.9" stroke="#050505" stroke-width="1"/>
<rect x="409.40" y="203.6" width="2.5" height="1.4" fill="#161616"/>
<rect x="409.85" y="203.9" width="1.6" height="0.8" fill="#8e0b1c"/>
<line x1="414.02" x2="414.02" y1="201.4" y2="207.5" stroke="#050505" stroke-width="1"/>
<rect x="412.77" y="203.3" width="2.5" height="1.7" fill="#161616"/>
<rect x="413.22" y="203.6" width="1.6" height="1.1" fill="#0f8a14"/>
<line x1="417.39" x2="417.39" y1="192.9" y2="211.4" stroke="#050505" stroke-width="1"/>
<rect x="416.14" y="196.4" width="2.5" height="8.6" fill="#161616"/>
<rect x="416.59" y="196.7" width="1.6" height="8.0" fill="#8e0b1c"/>
<line x1="420.76" x2="420.76" y1="185" y2="205" stroke="#050505" stroke-width="1"/>
<rect x="419.51" y="188.6" width="2.5" height="15.7" fill="#161616"/>
<rect x="419.96" y="188.9" width="1.6" height="15.1" fill="#0f8a14"/>
<line x1="424.12" x2="424.12" y1="184.3" y2="201.4" stroke="#050505" stroke-width="1"/>
<rect x="422.88" y="188.6" width="2.5" height="11.4" fill="#161616"/>
<rect x="423.32" y="188.9" width="1.6" height="10.8" fill="#8e0b1c"/>
<line x1="427.49" x2="427.49" y1="185" y2="204.3" stroke="#050505" stroke-width="1"/>
<rect x="426.24" y="191" width="2.5" height="9.0" fill="#161616"/>
<rect x="426.69" y="191.3" width="1.6" height="8.4" fill="#0f8a14"/>
<line x1="430.86" x2="430.86" y1="172.1" y2="197.9" stroke="#050505" stroke-width="1"/>
<rect x="429.61" y="184.3" width="2.5" height="7.1" fill="#161616"/>
<rect x="430.06" y="184.6" width="1.6" height="6.5" fill="#0f8a14"/>
<line x1="434.23" x2="434.23" y1="182.9" y2="203.6" stroke="#050505" stroke-width="1"/>
<rect x="432.98" y="184.3" width="2.5" height="18.6" fill="#161616"/>
<rect x="433.43" y="184.6" width="1.6" height="18.0" fill="#8e0b1c"/>
<line x1="437.60" x2="437.60" y1="198.6" y2="203.6" stroke="#050505" stroke-width="1"/>
<rect x="436.35" y="199.3" width="2.5" height="3.6" fill="#161616"/>
<rect x="436.80" y="199.6" width="1.6" height="3.0" fill="#0f8a14"/>
<line x1="440.97" x2="440.97" y1="195" y2="203.6" stroke="#050505" stroke-width="1"/>
<rect x="439.72" y="199.3" width="2.5" height="3.6" fill="#161616"/>
<rect x="440.17" y="199.6" width="1.6" height="3.0" fill="#8e0b1c"/>
<line x1="444.34" x2="444.34" y1="194.7" y2="204.7" stroke="#050505" stroke-width="1"/>
<rect x="443.09" y="195.4" width="2.5" height="8.2" fill="#161616"/>
<rect x="443.54" y="195.7" width="1.6" height="7.6" fill="#0f8a14"/>
<line x1="447.71" x2="447.71" y1="178.6" y2="197.1" stroke="#050505" stroke-width="1"/>
<rect x="446.46" y="193.3" width="2.5" height="2.4" fill="#161616"/>
<rect x="446.91" y="193.6" width="1.6" height="1.8" fill="#0f8a14"/>
<line x1="451.08" x2="451.08" y1="189.3" y2="217.9" stroke="#050505" stroke-width="1"/>
<rect x="449.83" y="193.6" width="2.5" height="20.0" fill="#161616"/>
<rect x="450.28" y="193.9" width="1.6" height="19.4" fill="#8e0b1c"/>
<line x1="454.45" x2="454.45" y1="203.6" y2="217.5" stroke="#050505" stroke-width="1"/>
<rect x="453.20" y="211.4" width="2.5" height="2.9" fill="#161616"/>
<rect x="453.65" y="211.7" width="1.6" height="2.3" fill="#0f8a14"/>
<line x1="457.82" x2="457.82" y1="205.7" y2="217.5" stroke="#050505" stroke-width="1"/>
<rect x="456.57" y="208" width="2.5" height="3.4" fill="#161616"/>
<rect x="457.02" y="208.3" width="1.6" height="2.8" fill="#0f8a14"/>
<line x1="461.18" x2="461.18" y1="204.3" y2="210.2" stroke="#050505" stroke-width="1"/>
<rect x="459.98" y="207.1" width="2.4" height="1.5" fill="#111"/>
<line x1="464.55" x2="464.55" y1="205.7" y2="229.3" stroke="#050505" stroke-width="1"/>
<rect x="463.30" y="207.1" width="2.5" height="20.8" fill="#161616"/>
<rect x="463.75" y="207.4" width="1.6" height="20.2" fill="#8e0b1c"/>
<line x1="467.92" x2="467.92" y1="224.7" y2="240.7" stroke="#050505" stroke-width="1"/>
<rect x="466.67" y="227.6" width="2.5" height="3.1" fill="#161616"/>
<rect x="467.12" y="227.9" width="1.6" height="2.5" fill="#8e0b1c"/>
<line x1="471.29" x2="471.29" y1="206" y2="250" stroke="#050505" stroke-width="1"/>
<rect x="470.04" y="230.4" width="2.5" height="18.6" fill="#161616"/>
<rect x="470.49" y="230.7" width="1.6" height="18.0" fill="#8e0b1c"/>
<line x1="474.66" x2="474.66" y1="208.2" y2="273.7" stroke="#050505" stroke-width="1"/>
<rect x="473.41" y="248.1" width="2.5" height="14.6" fill="#161616"/>
<rect x="473.86" y="248.4" width="1.6" height="14.0" fill="#8e0b1c"/>
<line x1="478.03" x2="478.03" y1="260" y2="272.4" stroke="#050505" stroke-width="1"/>
<rect x="476.78" y="262" width="2.5" height="7.2" fill="#161616"/>
<rect x="477.23" y="262.3" width="1.6" height="6.6" fill="#8e0b1c"/>
<line x1="481.40" x2="481.40" y1="269.5" y2="300.4" stroke="#050505" stroke-width="1"/>
<rect x="480.15" y="270.5" width="2.5" height="28.3" fill="#161616"/>
<rect x="480.60" y="270.8" width="1.6" height="27.7" fill="#8e0b1c"/>
<line x1="484.77" x2="484.77" y1="284.4" y2="300" stroke="#050505" stroke-width="1"/>
<rect x="483.52" y="286.8" width="2.5" height="12.5" fill="#161616"/>
<rect x="483.97" y="287.1" width="1.6" height="11.9" fill="#0f8a14"/>
<line x1="488.14" x2="488.14" y1="281.7" y2="306.8" stroke="#050505" stroke-width="1"/>
<rect x="486.89" y="287.6" width="2.5" height="5.9" fill="#161616"/>
<rect x="487.34" y="287.9" width="1.6" height="5.3" fill="#8e0b1c"/>
<line x1="491.51" x2="491.51" y1="281.7" y2="306" stroke="#050505" stroke-width="1"/>
<rect x="490.26" y="294" width="2.5" height="5.6" fill="#161616"/>
<rect x="490.71" y="294.3" width="1.6" height="5.0" fill="#8e0b1c"/>
<line x1="494.87" x2="494.87" y1="283.9" y2="308.4" stroke="#050505" stroke-width="1"/>
<rect x="493.62" y="298" width="2.5" height="4.5" fill="#161616"/>
<rect x="494.07" y="298.3" width="1.6" height="3.9" fill="#8e0b1c"/>
<line x1="498.24" x2="498.24" y1="298" y2="304" stroke="#050505" stroke-width="1"/>
<rect x="497.04" y="300.6" width="2.4" height="0.9" fill="#111"/>
<line x1="501.61" x2="501.61" y1="295.6" y2="309.5" stroke="#050505" stroke-width="1"/>
<rect x="500.36" y="301.5" width="2.5" height="6.4" fill="#161616"/>
<rect x="500.81" y="301.8" width="1.6" height="5.8" fill="#8e0b1c"/>
<line x1="504.98" x2="504.98" y1="300.4" y2="314.8" stroke="#050505" stroke-width="1"/>
<rect x="503.78" y="307.2" width="2.4" height="0.9" fill="#111"/>
<line x1="508.35" x2="508.35" y1="290" y2="310.8" stroke="#050505" stroke-width="1"/>
<rect x="507.10" y="300.4" width="2.5" height="6.4" fill="#161616"/>
<rect x="507.55" y="300.7" width="1.6" height="5.8" fill="#0f8a14"/>
<line x1="511.72" x2="511.72" y1="265.2" y2="315.6" stroke="#050505" stroke-width="1"/>
<rect x="510.47" y="299.9" width="2.5" height="14.9" fill="#161616"/>
<rect x="510.92" y="300.2" width="1.6" height="14.3" fill="#8e0b1c"/>
<line x1="515.09" x2="515.09" y1="303.6" y2="319.2" stroke="#050505" stroke-width="1"/>
<rect x="513.84" y="314" width="2.5" height="4.8" fill="#161616"/>
<rect x="514.29" y="314.3" width="1.6" height="4.2" fill="#8e0b1c"/>
<line x1="518.46" x2="518.46" y1="310.8" y2="319.2" stroke="#050505" stroke-width="1"/>
<rect x="517.21" y="311.1" width="2.5" height="7.7" fill="#161616"/>
<rect x="517.66" y="311.4" width="1.6" height="7.1" fill="#0f8a14"/>
<line x1="521.83" x2="521.83" y1="305.2" y2="317.2" stroke="#050505" stroke-width="1"/>
<rect x="520.63" y="311" width="2.4" height="0.9" fill="#111"/>
<path d="M2.0,235.7C3.1,235.7 5.8,236.4 8.6,235.7C11.4,235.0 15.3,232.7 18.6,231.4C21.9,230.1 24.6,228.6 28.6,228.1C32.6,227.6 38.6,228.6 42.9,228.6C47.2,228.6 50.7,228.5 54.3,227.9C57.9,227.3 61.4,226.1 64.3,225.0C67.2,223.9 69.3,222.2 71.4,221.4C73.5,220.6 74.6,220.9 77.0,220.0C79.4,219.1 83.8,216.5 85.7,215.7C87.6,214.9 86.2,215.4 88.6,215.0C91.0,214.6 96.2,213.9 100.0,213.2C103.8,212.5 107.8,211.6 111.4,210.7C115.0,209.8 118.1,209.1 121.4,207.9C124.7,206.7 128.3,204.9 131.4,203.6C134.5,202.3 137.4,201.1 140.0,200.0C142.6,198.9 144.2,197.9 147.0,197.1C149.8,196.3 153.7,195.5 157.0,195.0C160.3,194.5 164.1,194.2 167.0,194.3C169.9,194.4 171.7,195.8 174.3,195.7C177.0,195.6 180.1,194.3 182.9,193.6C185.8,192.9 188.6,192.3 191.4,191.4C194.2,190.5 197.1,189.2 200.0,188.2C202.9,187.2 205.5,185.7 208.6,185.3C211.7,185.0 215.8,186.0 218.6,186.1C221.4,186.2 223.6,185.4 225.7,185.7C227.8,186.0 229.2,188.2 231.4,188.1C233.6,188.0 236.2,185.9 238.6,185.0C241.0,184.1 243.1,182.6 245.7,182.4C248.3,182.2 251.4,183.3 254.3,183.6C257.2,183.8 260.0,183.3 262.9,183.9C265.8,184.5 268.5,185.9 271.4,187.1C274.2,188.3 276.9,189.5 280.0,191.0C283.1,192.5 286.7,194.6 290.0,196.2C293.3,197.8 297.4,199.3 300.0,200.5C302.6,201.7 303.3,202.0 305.7,203.6C308.1,205.2 311.2,208.0 314.3,210.0C317.4,212.0 321.2,214.0 324.3,215.7C327.4,217.4 330.0,218.8 332.9,220.0C335.8,221.2 338.5,221.8 341.4,222.6C344.2,223.4 346.2,223.7 350.0,224.6C353.8,225.5 359.5,226.7 364.3,227.9C369.1,229.2 373.8,230.6 378.6,232.1C383.4,233.6 388.1,235.8 392.9,237.1C397.6,238.4 402.4,239.3 407.1,240.0C411.9,240.7 416.6,240.7 421.4,241.4C426.2,242.1 431.6,243.4 435.7,244.0C439.8,244.6 442.6,244.3 445.7,245.0C448.8,245.7 450.5,247.2 454.3,248.1C458.1,249.0 463.8,249.8 468.6,250.7C473.4,251.6 478.1,252.8 482.9,253.3C487.6,253.9 492.8,253.9 497.1,254.0C501.4,254.1 504.5,253.7 508.6,253.6C512.7,253.5 519.5,253.4 521.7,253.3" fill="none" stroke="#45b478" stroke-width="1"/>
<path d="M2.0,241.4C2.8,240.3 5.7,237.0 7.0,235.0C8.3,233.0 8.5,231.5 9.7,229.3C10.9,227.1 12.4,224.7 14.3,222.0C16.2,219.3 19.6,215.3 21.4,213.0C23.2,210.7 23.7,209.8 25.0,208.0C26.3,206.2 28.0,203.4 29.3,202.4C30.6,201.4 31.7,201.9 33.0,201.8C34.3,201.7 35.4,201.8 37.0,202.0C38.6,202.2 41.2,203.2 42.9,202.9C44.6,202.6 45.1,201.7 47.0,200.0C48.9,198.3 51.9,195.3 54.3,192.9C56.7,190.5 59.7,187.8 61.4,185.7C63.1,183.5 63.6,181.9 64.5,180.0C65.4,178.1 65.8,176.1 67.0,174.3C68.2,172.5 69.6,170.6 71.4,169.3C73.2,168.0 75.5,167.1 77.9,166.4C80.3,165.8 83.5,165.0 85.7,165.4C88.0,165.8 89.5,167.1 91.4,168.6C93.3,170.1 95.6,173.5 97.0,174.3C98.4,175.1 98.5,173.9 100.0,173.4C101.5,172.9 104.0,171.9 105.7,171.4C107.4,170.9 108.3,169.9 110.0,170.4C111.7,170.9 113.8,173.1 115.7,174.3C117.6,175.5 119.2,176.5 121.4,177.6C123.6,178.7 126.4,179.0 128.6,180.7C130.8,182.4 132.2,185.6 134.3,187.9C136.4,190.2 139.3,192.2 141.4,194.3C143.5,196.4 145.1,198.7 147.0,200.7C148.9,202.7 150.7,205.4 152.9,206.4C155.1,207.4 157.7,206.2 160.0,206.4C162.3,206.6 164.5,206.8 167.0,207.6C169.5,208.4 172.8,211.1 175.0,211.4C177.2,211.7 177.7,210.2 180.0,209.3C182.3,208.4 185.3,207.3 188.6,205.7C191.9,204.1 196.9,201.4 200.0,199.6C203.1,197.8 204.6,196.6 207.0,195.0C209.4,193.4 211.9,191.6 214.3,190.0C216.7,188.4 219.0,187.0 221.4,185.7C223.8,184.4 226.2,183.4 228.6,182.1C231.0,180.8 233.6,179.6 235.7,177.9C237.8,176.2 239.5,173.8 241.4,172.1C243.3,170.4 245.1,168.9 247.0,167.9C248.9,166.9 250.7,166.3 252.9,166.1C255.1,165.8 257.6,166.0 260.0,166.4C262.4,166.8 264.9,167.7 267.0,168.6C269.1,169.5 271.0,170.5 272.9,172.1C274.8,173.7 276.7,175.5 278.6,177.9C280.5,180.3 282.7,184.0 284.3,186.4C285.9,188.8 286.6,190.0 288.0,192.5C289.4,195.0 291.1,198.0 292.9,201.4C294.7,204.8 296.7,208.9 298.6,212.9C300.5,216.9 302.4,221.2 304.3,225.7C306.2,230.2 308.4,235.9 310.0,240.0C311.6,244.1 312.0,246.2 313.6,250.0C315.2,253.8 317.4,258.1 319.5,262.8C321.6,267.5 324.0,273.6 326.3,278.1C328.6,282.6 330.8,286.6 333.1,290.0C335.4,293.4 337.8,296.5 339.9,298.5C342.0,300.5 343.8,301.7 345.8,302.0C347.8,302.3 349.3,301.0 352.0,300.1C354.7,299.2 359.0,298.1 362.1,296.4C365.2,294.7 368.1,292.4 370.7,290.0C373.3,287.6 375.5,284.7 377.9,282.1C380.3,279.5 382.6,277.2 385.0,274.3C387.4,271.4 389.7,268.0 392.1,265.0C394.5,262.0 396.9,259.0 399.3,256.4C401.7,253.8 404.0,251.7 406.4,249.3C408.8,246.9 411.2,244.5 413.6,242.1C416.0,239.7 418.0,237.5 420.7,235.0C423.4,232.5 426.8,230.1 430.0,227.1C433.2,224.1 437.1,219.8 440.0,217.1C442.9,214.4 444.7,212.4 447.1,210.7C449.5,209.0 451.9,208.0 454.3,207.1C456.7,206.2 459.0,205.6 461.4,205.3C463.8,205.0 466.5,204.9 468.6,205.3C470.8,205.7 472.2,206.1 474.3,207.9C476.4,209.8 479.0,213.3 481.4,216.4C483.8,219.5 486.2,222.8 488.6,226.4C491.0,230.0 493.3,234.2 495.7,237.9C498.1,241.6 500.8,245.3 502.9,248.6C505.0,251.9 506.7,254.7 508.3,257.5C509.9,260.3 511.2,262.8 512.8,265.5C514.3,268.2 516.0,271.6 517.6,274.0C519.2,276.4 521.4,278.7 522.1,279.6" fill="none" stroke="#e8274f" stroke-width="1"/>
<line x1="2.5" y1="127.8" x2="41.2" y2="104.2" stroke="#ff3030" stroke-width="1.3" stroke-dasharray="3,3.1"/>
<line x1="2.1" x2="664.2" y1="132.9" y2="132.9" stroke="#dc143c" stroke-width="1.7"/>
<line x1="2.1" x2="664.2" y1="176.6" y2="176.6" stroke="#dc143c" stroke-width="1.7"/>
</g>
<g clip-path="url(#c2)">
<line x1="3.00" x2="3.00" y1="430.1" y2="431.3" stroke="#2f8f2f" stroke-width="1.15"/>
<line x1="6.37" x2="6.37" y1="430.1" y2="431.3" stroke="#2f8f2f" stroke-width="1.15"/>
<line x1="9.74" x2="9.74" y1="429.3" y2="430.7" stroke="#2f8f2f" stroke-width="1.15"/>
<line x1="13.11" x2="13.11" y1="424.0" y2="430.7" stroke="#2f8f2f" stroke-width="1.15"/>
<line x1="16.48" x2="16.48" y1="421.4" y2="430.7" stroke="#2f8f2f" stroke-width="1.15"/>
<line x1="19.85" x2="19.85" y1="420.7" y2="430.7" stroke="#2f8f2f" stroke-width="1.15"/>
<line x1="23.21" x2="23.21" y1="419.3" y2="430.7" stroke="#2f8f2f" stroke-width="1.15"/>
<line x1="26.58" x2="26.58" y1="418.9" y2="430.7" stroke="#2f8f2f" stroke-width="1.15"/>
<line x1="29.95" x2="29.95" y1="417.1" y2="430.7" stroke="#2f8f2f" stroke-width="1.15"/>
<line x1="33.32" x2="33.32" y1="425.4" y2="430.7" stroke="#2f8f2f" stroke-width="1.15"/>
<line x1="36.69" x2="36.69" y1="430.1" y2="431.3" stroke="#2f8f2f" stroke-width="1.15"/>
<line x1="40.06" x2="40.06" y1="430.7" y2="435.4" stroke="#2f8f2f" stroke-width="1.15"/>
<line x1="43.43" x2="43.43" y1="430.7" y2="436.9" stroke="#2f8f2f" stroke-width="1.15"/>
<line x1="46.80" x2="46.80" y1="430.7" y2="433.6" stroke="#2f8f2f" stroke-width="1.15"/>
<line x1="50.17" x2="50.17" y1="430.1" y2="431.3" stroke="#2f8f2f" stroke-width="1.15"/>
<line x1="53.54" x2="53.54" y1="430.1" y2="431.3" stroke="#2f8f2f" stroke-width="1.15"/>
<line x1="56.90" x2="56.90" y1="430.1" y2="431.3" stroke="#2f8f2f" stroke-width="1.15"/>
<line x1="67.01" x2="67.01" y1="428.3" y2="430.7" stroke="#2f8f2f" stroke-width="1.15"/>
<line x1="70.38" x2="70.38" y1="427.1" y2="430.7" stroke="#2f8f2f" stroke-width="1.15"/>
<line x1="73.75" x2="73.75" y1="429.7" y2="430.7" stroke="#2f8f2f" stroke-width="1.15"/>
<line x1="77.12" x2="77.12" y1="430.1" y2="431.3" stroke="#2f8f2f" stroke-width="1.15"/>
<line x1="80.49" x2="80.49" y1="430.1" y2="431.3" stroke="#2f8f2f" stroke-width="1.15"/>
<line x1="87.23" x2="87.23" y1="430.1" y2="431.3" stroke="#2f8f2f" stroke-width="1.15"/>
<line x1="90.59" x2="90.59" y1="430.7" y2="436.4" stroke="#2f8f2f" stroke-width="1.15"/>
<line x1="93.96" x2="93.96" y1="430.7" y2="438.6" stroke="#2f8f2f" stroke-width="1.15"/>
<line x1="97.33" x2="97.33" y1="430.7" y2="439.3" stroke="#2f8f2f" stroke-width="1.15"/>
<line x1="100.70" x2="100.70" y1="430.7" y2="440.0" stroke="#2f8f2f" stroke-width="1.15"/>
<line x1="104.07" x2="104.07" y1="430.7" y2="440.0" stroke="#2f8f2f" stroke-width="1.15"/>
<line x1="107.44" x2="107.44" y1="430.7" y2="438.6" stroke="#2f8f2f" stroke-width="1.15"/>
<line x1="110.81" x2="110.81" y1="430.7" y2="438.1" stroke="#2f8f2f" stroke-width="1.15"/>
<line x1="114.18" x2="114.18" y1="430.7" y2="438.6" stroke="#2f8f2f" stroke-width="1.15"/>
<line x1="117.55" x2="117.55" y1="430.7" y2="436.7" stroke="#2f8f2f" stroke-width="1.15"/>
<line x1="120.92" x2="120.92" y1="430.7" y2="436.1" stroke="#2f8f2f" stroke-width="1.15"/>
<line x1="124.28" x2="124.28" y1="430.7" y2="435.0" stroke="#2f8f2f" stroke-width="1.15"/>
<line x1="127.65" x2="127.65" y1="430.7" y2="434.3" stroke="#2f8f2f" stroke-width="1.15"/>
<line x1="131.02" x2="131.02" y1="430.7" y2="435.0" stroke="#2f8f2f" stroke-width="1.15"/>
<line x1="134.39" x2="134.39" y1="430.7" y2="435.7" stroke="#2f8f2f" stroke-width="1.15"/>
<line x1="137.76" x2="137.76" y1="430.7" y2="435.0" stroke="#2f8f2f" stroke-width="1.15"/>
<line x1="141.13" x2="141.13" y1="430.7" y2="434.3" stroke="#2f8f2f" stroke-width="1.15"/>
<line x1="144.50" x2="144.50" y1="430.7" y2="434.3" stroke="#2f8f2f" stroke-width="1.15"/>
<line x1="147.87" x2="147.87" y1="430.7" y2="433.9" stroke="#2f8f2f" stroke-width="1.15"/>
<line x1="151.24" x2="151.24" y1="430.7" y2="433.6" stroke="#2f8f2f" stroke-width="1.15"/>
<line x1="157.97" x2="157.97" y1="430.1" y2="431.3" stroke="#2f8f2f" stroke-width="1.15"/>
<line x1="161.34" x2="161.34" y1="428.6" y2="430.7" stroke="#2f8f2f" stroke-width="1.15"/>
<line x1="164.71" x2="164.71" y1="430.1" y2="431.3" stroke="#2f8f2f" stroke-width="1.15"/>
<line x1="168.08" x2="168.08" y1="430.1" y2="431.3" stroke="#2f8f2f" stroke-width="1.15"/>
<line x1="174.82" x2="174.82" y1="430.1" y2="431.3" stroke="#2f8f2f" stroke-width="1.15"/>
<line x1="178.19" x2="178.19" y1="430.1" y2="431.3" stroke="#2f8f2f" stroke-width="1.15"/>
<line x1="181.56" x2="181.56" y1="427.1" y2="430.7" stroke="#2f8f2f" stroke-width="1.15"/>
<line x1="184.93" x2="184.93" y1="426.1" y2="430.7" stroke="#2f8f2f" stroke-width="1.15"/>
<line x1="188.30" x2="188.30" y1="424.3" y2="430.7" stroke="#2f8f2f" stroke-width="1.15"/>
<line x1="191.66" x2="191.66" y1="423.6" y2="430.7" stroke="#2f8f2f" stroke-width="1.15"/>
<line x1="195.03" x2="195.03" y1="422.9" y2="430.7" stroke="#2f8f2f" stroke-width="1.15"/>
<line x1="198.40" x2="198.40" y1="422.4" y2="430.7" stroke="#2f8f2f" stroke-width="1.15"/>
<line x1="201.77" x2="201.77" y1="423.6" y2="430.7" stroke="#2f8f2f" stroke-width="1.15"/>
<line x1="205.14" x2="205.14" y1="424.7" y2="430.7" stroke="#2f8f2f" stroke-width="1.15"/>
<line x1="208.51" x2="208.51" y1="425.7" y2="430.7" stroke="#2f8f2f" stroke-width="1.15"/>
<line x1="211.88" x2="211.88" y1="428.1" y2="430.7" stroke="#2f8f2f" stroke-width="1.15"/>
<line x1="215.25" x2="215.25" y1="428.1" y2="430.7" stroke="#2f8f2f" stroke-width="1.15"/>
<line x1="218.62" x2="218.62" y1="430.1" y2="431.3" stroke="#2f8f2f" stroke-width="1.15"/>
<line x1="221.99" x2="221.99" y1="430.1" y2="431.3" stroke="#2f8f2f" stroke-width="1.15"/>
<line x1="225.35" x2="225.35" y1="430.1" y2="431.3" stroke="#2f8f2f" stroke-width="1.15"/>
<line x1="228.72" x2="228.72" y1="430.1" y2="431.3" stroke="#2f8f2f" stroke-width="1.15"/>
<line x1="232.09" x2="232.09" y1="430.1" y2="431.3" stroke="#2f8f2f" stroke-width="1.15"/>
<line x1="235.46" x2="235.46" y1="429.3" y2="430.7" stroke="#2f8f2f" stroke-width="1.15"/>
<line x1="238.83" x2="238.83" y1="430.1" y2="431.3" stroke="#2f8f2f" stroke-width="1.15"/>
<line x1="242.20" x2="242.20" y1="430.1" y2="431.3" stroke="#2f8f2f" stroke-width="1.15"/>
<line x1="245.57" x2="245.57" y1="429.3" y2="430.7" stroke="#2f8f2f" stroke-width="1.15"/>
<line x1="248.94" x2="248.94" y1="429.3" y2="430.7" stroke="#2f8f2f" stroke-width="1.15"/>
<line x1="252.31" x2="252.31" y1="430.1" y2="431.3" stroke="#2f8f2f" stroke-width="1.15"/>
<line x1="255.68" x2="255.68" y1="430.1" y2="431.3" stroke="#2f8f2f" stroke-width="1.15"/>
<line x1="259.04" x2="259.04" y1="430.1" y2="431.3" stroke="#2f8f2f" stroke-width="1.15"/>
<line x1="262.41" x2="262.41" y1="430.7" y2="433.6" stroke="#2f8f2f" stroke-width="1.15"/>
<line x1="265.78" x2="265.78" y1="430.7" y2="435.7" stroke="#2f8f2f" stroke-width="1.15"/>
<line x1="269.15" x2="269.15" y1="430.7" y2="437.6" stroke="#2f8f2f" stroke-width="1.15"/>
<line x1="272.52" x2="272.52" y1="430.7" y2="439.6" stroke="#2f8f2f" stroke-width="1.15"/>
<line x1="275.89" x2="275.89" y1="430.7" y2="442.1" stroke="#2f8f2f" stroke-width="1.15"/>
<line x1="279.26" x2="279.26" y1="430.7" y2="445.7" stroke="#2f8f2f" stroke-width="1.15"/>
<line x1="282.63" x2="282.63" y1="430.7" y2="448.9" stroke="#2f8f2f" stroke-width="1.15"/>
<line x1="286.00" x2="286.00" y1="430.7" y2="449.5" stroke="#2f8f2f" stroke-width="1.15"/>
<line x1="289.37" x2="289.37" y1="430.7" y2="448.6" stroke="#2f8f2f" stroke-width="1.15"/>
<line x1="292.73" x2="292.73" y1="430.7" y2="447.5" stroke="#2f8f2f" stroke-width="1.15"/>
<line x1="296.10" x2="296.10" y1="430.7" y2="446.0" stroke="#2f8f2f" stroke-width="1.15"/>
<line x1="299.47" x2="299.47" y1="430.7" y2="444.7" stroke="#2f8f2f" stroke-width="1.15"/>
<line x1="302.84" x2="302.84" y1="430.7" y2="444.0" stroke="#2f8f2f" stroke-width="1.15"/>
<line x1="306.21" x2="306.21" y1="430.7" y2="443.1" stroke="#2f8f2f" stroke-width="1.15"/>
<line x1="309.58" x2="309.58" y1="430.7" y2="442.1" stroke="#2f8f2f" stroke-width="1.15"/>
<line x1="312.95" x2="312.95" y1="430.7" y2="440.0" stroke="#2f8f2f" stroke-width="1.15"/>
<line x1="316.32" x2="316.32" y1="430.7" y2="436.9" stroke="#2f8f2f" stroke-width="1.15"/>
<line x1="319.69" x2="319.69" y1="430.7" y2="435.0" stroke="#2f8f2f" stroke-width="1.15"/>
<line x1="323.06" x2="323.06" y1="430.7" y2="432.6" stroke="#2f8f2f" stroke-width="1.15"/>
<line x1="326.42" x2="326.42" y1="430.1" y2="431.3" stroke="#2f8f2f" stroke-width="1.15"/>
<line x1="329.79" x2="329.79" y1="429.5" y2="430.7" stroke="#2f8f2f" stroke-width="1.15"/>
<line x1="333.16" x2="333.16" y1="427.9" y2="430.7" stroke="#2f8f2f" stroke-width="1.15"/>
<line x1="336.53" x2="336.53" y1="425.7" y2="430.7" stroke="#2f8f2f" stroke-width="1.15"/>
<line x1="339.90" x2="339.90" y1="423.3" y2="430.7" stroke="#2f8f2f" stroke-width="1.15"/>
<line x1="343.27" x2="343.27" y1="420.2" y2="430.7" stroke="#2f8f2f" stroke-width="1.15"/>
<line x1="346.64" x2="346.64" y1="418.8" y2="430.7" stroke="#2f8f2f" stroke-width="1.15"/>
<line x1="350.01" x2="350.01" y1="418.1" y2="430.7" stroke="#2f8f2f" stroke-width="1.15"/>
<line x1="353.38" x2="353.38" y1="417.9" y2="430.7" stroke="#2f8f2f" stroke-width="1.15"/>
<line x1="356.75" x2="356.75" y1="416.9" y2="430.7" stroke="#2f8f2f" stroke-width="1.15"/>
<line x1="360.11" x2="360.11" y1="417.9" y2="430.7" stroke="#2f8f2f" stroke-width="1.15"/>
<line x1="363.48" x2="363.48" y1="418.6" y2="430.7" stroke="#2f8f2f" stroke-width="1.15"/>
<line x1="366.85" x2="366.85" y1="418.9" y2="430.7" stroke="#2f8f2f" stroke-width="1.15"/>
<line x1="370.22" x2="370.22" y1="419.3" y2="430.7" stroke="#2f8f2f" stroke-width="1.15"/>
<line x1="373.59" x2="373.59" y1="420.3" y2="430.7" stroke="#2f8f2f" stroke-width="1.15"/>
<line x1="376.96" x2="376.96" y1="421.4" y2="430.7" stroke="#2f8f2f" stroke-width="1.15"/>
<line x1="380.33" x2="380.33" y1="423.1" y2="430.7" stroke="#2f8f2f" stroke-width="1.15"/>
<line x1="383.70" x2="383.70" y1="424.0" y2="430.7" stroke="#2f8f2f" stroke-width="1.15"/>
<line x1="387.07" x2="387.07" y1="423.1" y2="430.7" stroke="#2f8f2f" stroke-width="1.15"/>
<line x1="390.44" x2="390.44" y1="422.1" y2="430.7" stroke="#2f8f2f" stroke-width="1.15"/>
<line x1="393.80" x2="393.80" y1="423.1" y2="430.7" stroke="#2f8f2f" stroke-width="1.15"/>
<line x1="397.17" x2="397.17" y1="423.1" y2="430.7" stroke="#2f8f2f" stroke-width="1.15"/>
<line x1="400.54" x2="400.54" y1="425.0" y2="430.7" stroke="#2f8f2f" stroke-width="1.15"/>
<line x1="403.91" x2="403.91" y1="426.9" y2="430.7" stroke="#2f8f2f" stroke-width="1.15"/>
<line x1="407.28" x2="407.28" y1="425.0" y2="430.7" stroke="#2f8f2f" stroke-width="1.15"/>
<line x1="410.65" x2="410.65" y1="424.0" y2="430.7" stroke="#2f8f2f" stroke-width="1.15"/>
<line x1="414.02" x2="414.02" y1="424.0" y2="430.7" stroke="#2f8f2f" stroke-width="1.15"/>
<line x1="417.39" x2="417.39" y1="424.6" y2="430.7" stroke="#2f8f2f" stroke-width="1.15"/>
<line x1="420.76" x2="420.76" y1="425.0" y2="430.7" stroke="#2f8f2f" stroke-width="1.15"/>
<line x1="424.12" x2="424.12" y1="425.7" y2="430.7" stroke="#2f8f2f" stroke-width="1.15"/>
<line x1="427.49" x2="427.49" y1="426.4" y2="430.7" stroke="#2f8f2f" stroke-width="1.15"/>
<line x1="430.86" x2="430.86" y1="426.7" y2="430.7" stroke="#2f8f2f" stroke-width="1.15"/>
<line x1="434.23" x2="434.23" y1="428.0" y2="430.7" stroke="#2f8f2f" stroke-width="1.15"/>
<line x1="437.60" x2="437.60" y1="429.6" y2="430.7" stroke="#2f8f2f" stroke-width="1.15"/>
<line x1="447.71" x2="447.71" y1="430.1" y2="431.3" stroke="#2f8f2f" stroke-width="1.15"/>
<line x1="451.08" x2="451.08" y1="430.7" y2="432.4" stroke="#2f8f2f" stroke-width="1.15"/>
<line x1="454.45" x2="454.45" y1="430.7" y2="433.6" stroke="#2f8f2f" stroke-width="1.15"/>
<line x1="457.82" x2="457.82" y1="430.7" y2="434.3" stroke="#2f8f2f" stroke-width="1.15"/>
<line x1="461.18" x2="461.18" y1="430.7" y2="434.7" stroke="#2f8f2f" stroke-width="1.15"/>
<line x1="464.55" x2="464.55" y1="430.7" y2="436.1" stroke="#2f8f2f" stroke-width="1.15"/>
<line x1="467.92" x2="467.92" y1="430.7" y2="437.1" stroke="#2f8f2f" stroke-width="1.15"/>
<line x1="471.29" x2="471.29" y1="430.7" y2="439.3" stroke="#2f8f2f" stroke-width="1.15"/>
<line x1="474.66" x2="474.66" y1="430.7" y2="441.4" stroke="#2f8f2f" stroke-width="1.15"/>
<line x1="478.03" x2="478.03" y1="430.7" y2="442.9" stroke="#2f8f2f" stroke-width="1.15"/>
<line x1="481.40" x2="481.40" y1="430.7" y2="445.0" stroke="#2f8f2f" stroke-width="1.15"/>
<line x1="484.77" x2="484.77" y1="430.7" y2="445.3" stroke="#2f8f2f" stroke-width="1.15"/>
<line x1="488.14" x2="488.14" y1="430.7" y2="445.7" stroke="#2f8f2f" stroke-width="1.15"/>
<line x1="491.51" x2="491.51" y1="430.7" y2="445.0" stroke="#2f8f2f" stroke-width="1.15"/>
<line x1="494.87" x2="494.87" y1="430.7" y2="443.6" stroke="#2f8f2f" stroke-width="1.15"/>
<line x1="498.24" x2="498.24" y1="430.7" y2="442.1" stroke="#2f8f2f" stroke-width="1.15"/>
<line x1="501.61" x2="501.61" y1="430.7" y2="441.0" stroke="#2f8f2f" stroke-width="1.15"/>
<line x1="504.98" x2="504.98" y1="430.7" y2="438.6" stroke="#2f8f2f" stroke-width="1.15"/>
<line x1="508.35" x2="508.35" y1="430.7" y2="436.7" stroke="#2f8f2f" stroke-width="1.15"/>
<line x1="511.72" x2="511.72" y1="430.7" y2="436.1" stroke="#2f8f2f" stroke-width="1.15"/>
<line x1="515.09" x2="515.09" y1="430.7" y2="435.0" stroke="#2f8f2f" stroke-width="1.15"/>
<line x1="518.46" x2="518.46" y1="430.7" y2="434.3" stroke="#2f8f2f" stroke-width="1.15"/>
<line x1="521.83" x2="521.83" y1="430.7" y2="432.9" stroke="#2f8f2f" stroke-width="1.15"/>
<path d="M2.0,423.6C3.1,423.6 6.5,424.1 8.6,423.6C10.7,423.1 12.2,422.1 14.3,420.7C16.4,419.3 19.0,417.1 21.4,415.0C23.8,412.9 26.6,409.6 28.6,407.9C30.6,406.2 31.7,405.0 33.6,405.0C35.5,405.0 37.8,407.1 40.0,407.9C42.2,408.7 44.2,409.7 47.0,410.0C49.8,410.3 54.1,409.8 57.0,409.7C59.9,409.6 61.9,409.6 64.3,409.3C66.7,409.0 69.0,408.1 71.4,407.9C73.8,407.7 76.2,407.8 78.6,407.9C81.0,408.0 83.3,407.9 85.7,408.6C88.1,409.3 90.5,410.8 92.9,412.1C95.3,413.4 97.6,414.9 100.0,416.5C102.4,418.1 104.7,419.8 107.1,421.4C109.5,423.0 111.9,425.0 114.3,426.4C116.7,427.8 119.0,428.9 121.4,430.0C123.8,431.1 126.2,431.9 128.6,432.9C131.0,433.8 133.3,434.7 135.7,435.7C138.1,436.7 140.5,438.2 142.9,439.0C145.3,439.8 147.6,440.2 150.0,440.4C152.4,440.6 154.7,440.4 157.1,440.0C159.5,439.6 161.9,438.3 164.3,438.1C166.7,437.9 169.3,438.5 171.4,438.6C173.5,438.7 174.9,439.2 177.1,438.6C179.2,438.1 181.9,436.3 184.3,435.3C186.7,434.3 188.8,433.7 191.4,432.4C194.0,431.1 197.4,428.9 200.0,427.5C202.6,426.1 204.7,425.2 207.1,424.3C209.5,423.4 211.9,422.6 214.3,422.1C216.7,421.6 219.0,421.6 221.4,421.4C223.8,421.2 226.2,420.9 228.6,420.7C231.0,420.5 233.3,420.6 235.7,420.4C238.1,420.2 240.5,420.0 242.9,419.6C245.3,419.2 247.6,418.2 250.0,417.9C252.4,417.6 255.0,417.5 257.1,417.9C259.2,418.2 261.0,419.2 262.9,420.0C264.8,420.8 266.7,421.7 268.6,422.9C270.5,424.1 272.4,425.5 274.3,427.1C276.2,428.7 278.1,430.2 280.0,432.5C281.9,434.8 283.6,437.9 285.7,441.0C287.8,444.1 290.3,447.8 292.9,451.0C295.5,454.2 298.5,457.1 301.4,460.0C304.2,462.9 307.4,466.3 310.0,468.6C312.6,470.9 315.0,472.6 317.1,473.6C319.2,474.6 320.8,474.5 322.9,474.6C325.0,474.7 327.6,474.6 330.0,474.0C332.4,473.4 334.7,472.1 337.1,470.7C339.5,469.3 341.9,467.5 344.3,465.7C346.7,463.9 349.0,461.8 351.4,459.6C353.8,457.4 356.2,454.8 358.6,452.5C361.0,450.2 363.1,448.3 365.7,446.0C368.3,443.7 371.4,440.8 374.3,438.6C377.2,436.4 380.0,434.7 382.9,432.9C385.8,431.1 388.5,429.4 391.4,427.9C394.2,426.3 397.1,425.0 400.0,423.6C402.9,422.2 405.8,420.7 408.6,419.3C411.5,417.9 414.2,416.3 417.1,415.0C420.0,413.7 422.8,412.5 425.7,411.4C428.6,410.3 431.2,409.1 434.3,408.6C437.4,408.1 441.0,408.4 444.3,408.6C447.6,408.8 451.2,409.2 454.3,410.0C457.4,410.8 460.0,411.9 462.9,413.3C465.8,414.7 468.8,416.5 471.4,418.6C474.0,420.7 476.2,423.2 478.6,425.7C481.0,428.1 483.3,430.7 485.7,433.3C488.1,435.9 490.5,438.8 492.9,441.4C495.3,443.9 497.6,446.7 500.0,448.6C502.4,450.5 504.7,451.6 507.1,452.9C509.5,454.1 511.9,455.2 514.3,456.1C516.7,457.0 520.2,457.8 521.4,458.1" fill="none" stroke="#ff2020" stroke-width="1.25" stroke-dasharray="3.2,2.8"/>
<path d="M2.0,426.0C2.8,425.7 5.4,425.8 7.0,424.3C8.6,422.8 9.7,419.7 11.4,417.1C13.1,414.5 15.1,411.2 17.0,408.6C18.9,406.0 21.2,403.5 22.9,401.4C24.6,399.3 25.8,397.3 27.0,396.0C28.2,394.7 29.2,393.5 30.0,393.6C30.8,393.7 31.3,395.1 32.0,396.5C32.7,397.9 33.2,399.7 34.3,402.1C35.4,404.5 37.0,408.3 38.6,410.7C40.2,413.1 42.2,415.9 43.6,416.4C45.0,416.9 45.9,414.9 47.0,413.6C48.1,412.3 48.8,409.6 50.0,408.6C51.2,407.7 52.6,407.7 54.3,407.9C56.0,408.1 58.5,409.7 60.0,410.0C61.5,410.3 62.5,410.4 63.6,409.7C64.7,409.0 65.3,406.6 66.4,405.7C67.5,404.8 68.7,404.2 70.0,404.3C71.3,404.4 72.6,405.7 74.3,406.4C76.0,407.1 78.1,408.1 80.0,408.6C81.9,409.1 84.0,407.8 85.7,409.3C87.4,410.9 88.6,415.8 90.0,417.9C91.4,420.0 92.6,420.8 94.3,422.1C96.0,423.5 98.3,424.6 100.0,426.0C101.7,427.4 102.4,429.3 104.3,430.7C106.2,432.1 109.0,433.4 111.4,434.3C113.8,435.2 116.0,436.2 118.6,436.4C121.2,436.6 125.1,435.3 127.1,435.7C129.1,436.1 129.5,437.5 130.7,438.6C131.9,439.7 132.5,441.5 134.3,442.1C136.1,442.7 139.7,442.2 141.4,442.4C143.1,442.6 142.8,443.0 144.3,443.3C145.9,443.6 148.7,444.7 150.7,444.0C152.7,443.3 154.6,440.6 156.4,439.3C158.2,438.0 160.0,436.5 161.4,436.1C162.8,435.7 163.9,437.1 165.0,437.1C166.1,437.1 166.8,435.8 167.9,436.1C169.0,436.4 170.3,438.4 171.4,439.0C172.5,439.6 173.1,440.6 174.3,440.0C175.5,439.4 176.9,437.4 178.6,435.7C180.3,434.0 182.2,432.0 184.3,430.0C186.4,428.0 189.3,425.2 191.4,423.6C193.5,422.0 195.7,421.0 197.1,420.4C198.5,419.8 198.6,420.3 200.0,420.2C201.4,420.1 204.3,420.4 205.7,420.0C207.1,419.6 207.4,418.0 208.6,417.9C209.8,417.8 211.7,419.4 212.9,419.6C214.1,419.8 214.3,418.8 215.7,419.0C217.1,419.2 219.2,421.0 221.4,421.0C223.6,421.0 226.8,419.2 228.6,419.0C230.4,418.8 230.9,420.1 232.1,420.0C233.3,419.9 234.0,418.6 235.7,418.3C237.4,418.0 240.4,418.4 242.1,418.1C243.8,417.8 244.4,416.7 245.7,416.4C247.0,416.1 248.6,416.1 250.0,416.4C251.4,416.7 252.9,417.4 254.3,418.1C255.7,418.8 257.2,419.5 258.6,420.4C260.0,421.3 261.2,422.0 262.9,423.6C264.6,425.2 266.7,427.8 268.6,430.0C270.5,432.2 272.6,434.7 274.3,437.1C276.0,439.5 277.7,442.5 278.6,444.3C279.6,446.1 279.3,446.3 280.0,447.9C280.7,449.5 281.7,451.8 282.9,454.0C284.1,456.2 285.4,459.0 287.1,461.4C288.8,463.8 290.8,466.6 292.9,468.6C295.0,470.6 297.9,471.9 300.0,473.6C302.1,475.3 303.9,477.4 305.7,478.6C307.5,479.9 309.0,480.8 310.7,481.1C312.4,481.4 313.7,481.0 315.7,480.3C317.7,479.6 320.5,478.6 322.9,477.1C325.3,475.6 327.6,473.4 330.0,471.4C332.4,469.4 335.0,467.4 337.1,465.0C339.2,462.6 341.2,459.4 342.9,457.1C344.6,454.8 345.9,452.8 347.1,451.4C348.3,450.0 348.8,449.9 350.0,448.6C351.2,447.3 352.4,445.6 354.3,443.6C356.2,441.7 359.0,438.9 361.4,436.9C363.8,434.9 366.2,432.9 368.6,431.4C371.0,429.9 373.3,428.8 375.7,427.9C378.1,426.9 380.5,427.0 382.9,425.7C385.3,424.4 387.6,421.6 390.0,420.0C392.4,418.4 394.7,417.0 397.1,416.4C399.5,415.8 402.4,417.0 404.3,416.4C406.2,415.8 406.9,414.0 408.6,412.9C410.3,411.8 412.2,411.1 414.3,410.0C416.4,408.9 419.5,407.1 421.4,406.4C423.3,405.7 424.0,406.4 425.7,406.0C427.4,405.6 429.5,404.1 431.4,404.3C433.3,404.6 434.5,406.7 437.1,407.5C439.7,408.3 444.2,408.2 447.1,409.3C450.0,410.4 452.2,413.2 454.3,414.3C456.4,415.4 457.6,414.7 460.0,416.1C462.4,417.5 466.2,420.3 468.6,422.9C471.0,425.4 472.4,428.3 474.3,431.4C476.2,434.5 478.3,438.6 480.0,441.4C481.7,444.1 482.6,445.9 484.3,447.9C486.0,449.9 488.1,452.0 490.0,453.6C491.9,455.2 493.6,456.5 495.7,457.6C497.8,458.7 500.8,459.4 502.9,460.0C505.0,460.6 506.5,460.6 508.6,461.0C510.7,461.4 513.6,462.2 515.7,462.1C517.8,462.1 520.5,460.9 521.4,460.7" fill="none" stroke="#1a1aff" stroke-width="1.15"/>
</g>
<rect x="2.1" y="39.2" width="662.1" height="347.2" fill="none" stroke="#3a3a3a" stroke-width="1"/>
<rect x="2.1" y="388.5" width="662.1" height="97.60000000000002" fill="none" stroke="#3a3a3a" stroke-width="1"/>
<line x1="2.1" x2="2.1" y1="386.4" y2="388.5" stroke="#3a3a3a" stroke-width="1"/><line x1="664.2" x2="664.2" y1="386.4" y2="388.5" stroke="#3a3a3a" stroke-width="1"/>
<g class="t">
<line x1="664.2" x2="666.8000000000001" y1="52.2" y2="52.2" stroke="#222" stroke-width="1"/>
<text x="669.2" y="54.8" font-size="7.8" fill="#111" textLength="27.6" lengthAdjust="spacingAndGlyphs">1.00660</text>
<line x1="664.2" x2="666.8000000000001" y1="79.9" y2="79.9" stroke="#222" stroke-width="1"/>
<text x="669.2" y="82.5" font-size="7.8" fill="#111" textLength="27.6" lengthAdjust="spacingAndGlyphs">1.00435</text>
<line x1="664.2" x2="666.8000000000001" y1="108.0" y2="108.0" stroke="#222" stroke-width="1"/>
<text x="669.2" y="110.6" font-size="7.8" fill="#111" textLength="27.6" lengthAdjust="spacingAndGlyphs">1.00210</text>
<line x1="664.2" x2="666.8000000000001" y1="135.7" y2="135.7" stroke="#222" stroke-width="1"/>
<text x="669.2" y="138.3" font-size="7.8" fill="#111" textLength="27.6" lengthAdjust="spacingAndGlyphs">0.99985</text>
<line x1="664.2" x2="666.8000000000001" y1="163.0" y2="163.0" stroke="#222" stroke-width="1"/>
<text x="669.2" y="165.6" font-size="7.8" fill="#111" textLength="27.6" lengthAdjust="spacingAndGlyphs">0.99760</text>
<line x1="664.2" x2="666.8000000000001" y1="190.6" y2="190.6" stroke="#222" stroke-width="1"/>
<text x="669.2" y="193.2" font-size="7.8" fill="#111" textLength="27.6" lengthAdjust="spacingAndGlyphs">0.99540</text>
<line x1="664.2" x2="666.8000000000001" y1="218.3" y2="218.3" stroke="#222" stroke-width="1"/>
<text x="669.2" y="220.9" font-size="7.8" fill="#111" textLength="27.6" lengthAdjust="spacingAndGlyphs">0.99315</text>
<line x1="664.2" x2="666.8000000000001" y1="245.9" y2="245.9" stroke="#222" stroke-width="1"/>
<text x="669.2" y="248.5" font-size="7.8" fill="#111" textLength="27.6" lengthAdjust="spacingAndGlyphs">0.99090</text>
<line x1="664.2" x2="666.8000000000001" y1="273.5" y2="273.5" stroke="#222" stroke-width="1"/>
<text x="669.2" y="276.1" font-size="7.8" fill="#111" textLength="27.6" lengthAdjust="spacingAndGlyphs">0.98865</text>
<line x1="664.2" x2="666.8000000000001" y1="301.0" y2="301.0" stroke="#222" stroke-width="1"/>
<text x="669.2" y="303.6" font-size="7.8" fill="#111" textLength="27.6" lengthAdjust="spacingAndGlyphs">0.98640</text>
<line x1="664.2" x2="666.8000000000001" y1="328.8" y2="328.8" stroke="#222" stroke-width="1"/>
<text x="669.2" y="331.4" font-size="7.8" fill="#111" textLength="27.6" lengthAdjust="spacingAndGlyphs">0.98415</text>
<line x1="664.2" x2="666.8000000000001" y1="356.3" y2="356.3" stroke="#222" stroke-width="1"/>
<text x="669.2" y="358.9" font-size="7.8" fill="#111" textLength="27.6" lengthAdjust="spacingAndGlyphs">0.98190</text>
<line x1="664.2" x2="666.8000000000001" y1="383.9" y2="383.9" stroke="#222" stroke-width="1"/>
<text x="669.2" y="386.5" font-size="7.8" fill="#111" textLength="27.6" lengthAdjust="spacingAndGlyphs">0.97965</text>
<rect x="665.4" y="128.4" width="34.6" height="8.8" fill="#dc143c"/>
<text x="669.2" y="135.3" font-size="7.8" class="w" fill="#fff" textLength="27.6" lengthAdjust="spacingAndGlyphs">1.00000</text>
<rect x="665.4" y="172.0" width="34.6" height="8.8" fill="#dc143c"/>
<text x="669.2" y="178.9" font-size="7.8" class="w" fill="#fff" textLength="27.6" lengthAdjust="spacingAndGlyphs">0.99650</text>
<rect x="665.4" y="307.0" width="34.6" height="8.8" fill="#000"/>
<text x="669.2" y="313.9" font-size="7.8" class="w" fill="#fff" textLength="27.6" lengthAdjust="spacingAndGlyphs">0.98558</text>
<text x="667.4" y="397.1" font-size="7.8" fill="#111" textLength="31.4" lengthAdjust="spacingAndGlyphs">0.002473</text>
<text x="667.4" y="434.2" font-size="7.8" fill="#111" textLength="14.8" lengthAdjust="spacingAndGlyphs">0.00</text>
<text x="667.4" y="483.1" font-size="7.8" fill="#111" textLength="34.2" lengthAdjust="spacingAndGlyphs">-0.003324</text>
<text x="613.0" y="101.0" font-size="7.8" class="g" fill="#7d7d7d" textLength="49.9" lengthAdjust="spacingAndGlyphs">0.0 = 1.00249</text>
<text x="608.9" y="207.1" font-size="7.8" class="g" fill="#7d7d7d" textLength="54.0" lengthAdjust="spacingAndGlyphs">23.6 = 0.99383</text>
<text x="608.9" y="272.8" font-size="7.8" class="g" fill="#7d7d7d" textLength="54.0" lengthAdjust="spacingAndGlyphs">38.2 = 0.98847</text>
<text x="608.9" y="326.1" font-size="7.8" class="g" fill="#7d7d7d" textLength="54.0" lengthAdjust="spacingAndGlyphs">50.0 = 0.98414</text>
<text x="608.9" y="379.5" font-size="7.8" class="g" fill="#7d7d7d" textLength="54.0" lengthAdjust="spacingAndGlyphs">61.8 = 0.97981</text>
<path d="M5.0,44.3 L10.7,44.3 L7.85,47.8 Z" fill="#111"/>
<text x="15.7" y="49.1" font-size="7.8" fill="#111" textLength="170.3" lengthAdjust="spacingAndGlyphs" xml:space="preserve">USDCHF,H4  0.98550 0.98608 0.98513 0.98558</text>
<text x="6.4" y="398.5" font-size="7.8" fill="#111" textLength="166.4" lengthAdjust="spacingAndGlyphs">MACD(12,26,9) -0.001836 -0.001676 -0.000160</text>
<line x1="3.0" x2="3.0" y1="486.1" y2="488.70000000000005" stroke="#222" stroke-width="1"/>
<text x="2.0" y="496.6" font-size="7.8" fill="#111" textLength="43.5" lengthAdjust="spacingAndGlyphs">30 Sep 2019</text>
<line x1="56.9" x2="56.9" y1="486.1" y2="488.70000000000005" stroke="#222" stroke-width="1"/>
<text x="55.9" y="496.6" font-size="7.8" fill="#111" textLength="41.4" lengthAdjust="spacingAndGlyphs">2 Oct 16:00</text>
<line x1="110.8" x2="110.8" y1="486.1" y2="488.70000000000005" stroke="#222" stroke-width="1"/>
<text x="109.8" y="496.6" font-size="7.8" fill="#111" textLength="41.4" lengthAdjust="spacingAndGlyphs">7 Oct 04:00</text>
<line x1="164.7" x2="164.7" y1="486.1" y2="488.70000000000005" stroke="#222" stroke-width="1"/>
<text x="163.7" y="496.6" font-size="7.8" fill="#111" textLength="41.4" lengthAdjust="spacingAndGlyphs">9 Oct 20:00</text>
<line x1="218.6" x2="218.6" y1="486.1" y2="488.70000000000005" stroke="#222" stroke-width="1"/>
<text x="217.6" y="496.6" font-size="7.8" fill="#111" textLength="45.0" lengthAdjust="spacingAndGlyphs">14 Oct 08:00</text>
<line x1="272.5" x2="272.5" y1="486.1" y2="488.70000000000005" stroke="#222" stroke-width="1"/>
<text x="271.5" y="496.6" font-size="7.8" fill="#111" textLength="45.0" lengthAdjust="spacingAndGlyphs">17 Oct 00:00</text>
<line x1="326.4" x2="326.4" y1="486.1" y2="488.70000000000005" stroke="#222" stroke-width="1"/>
<text x="325.4" y="496.6" font-size="7.8" fill="#111" textLength="45.0" lengthAdjust="spacingAndGlyphs">21 Oct 12:00</text>
<line x1="380.3" x2="380.3" y1="486.1" y2="488.70000000000005" stroke="#222" stroke-width="1"/>
<text x="379.3" y="496.6" font-size="7.8" fill="#111" textLength="45.0" lengthAdjust="spacingAndGlyphs">24 Oct 04:00</text>
<line x1="434.2" x2="434.2" y1="486.1" y2="488.70000000000005" stroke="#222" stroke-width="1"/>
<text x="433.2" y="496.6" font-size="7.8" fill="#111" textLength="45.0" lengthAdjust="spacingAndGlyphs">28 Oct 16:00</text>
<line x1="488.1" x2="488.1" y1="486.1" y2="488.70000000000005" stroke="#222" stroke-width="1"/>
<text x="487.1" y="496.6" font-size="7.8" fill="#111" textLength="45.0" lengthAdjust="spacingAndGlyphs">31 Oct 08:00</text>
</g>
</svg></body></html>
